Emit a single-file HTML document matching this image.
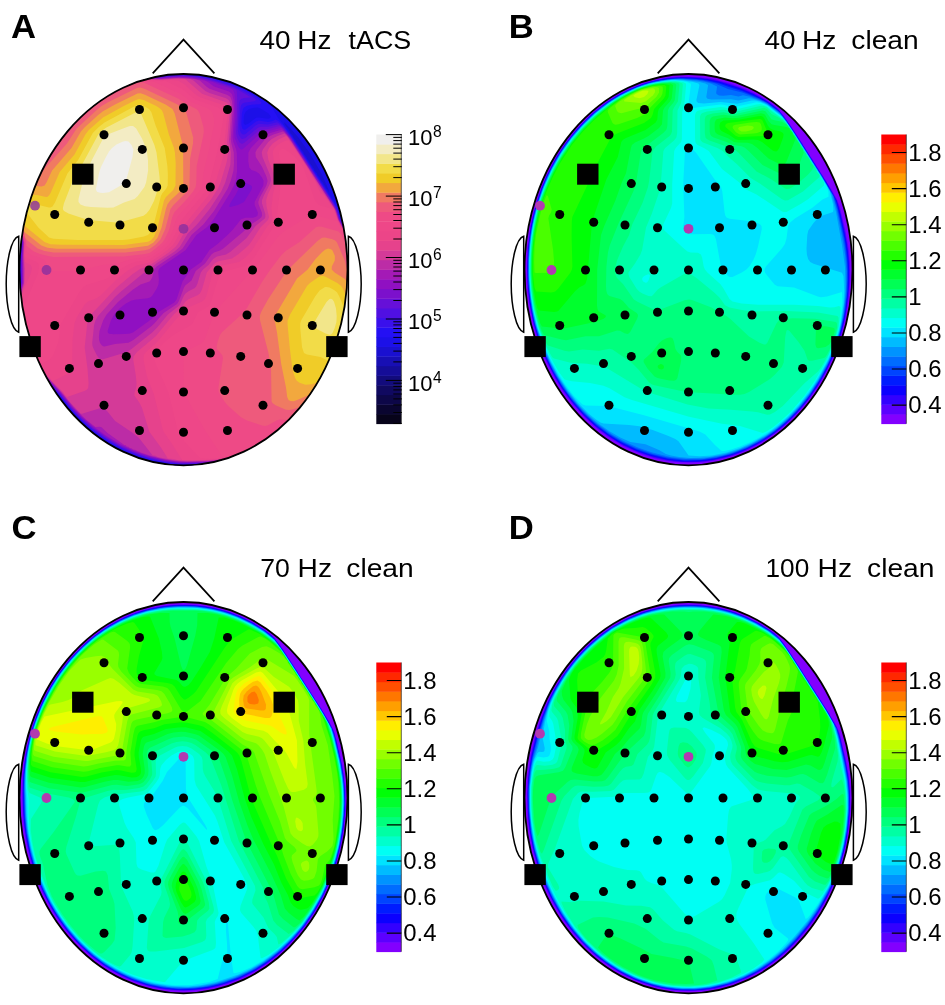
<!DOCTYPE html>
<html lang="en"><head><meta charset="utf-8"><title>Topographies</title>
<style>
html,body{margin:0;padding:0;background:#fff}
svg{display:block}
text{font-family:"Liberation Sans",sans-serif;fill:#000}
.t{font-size:26.6px}
.l{font-size:33px;font-weight:bold}
.c{font-size:23px}
</style></head><body>
<svg width="945" height="1005" viewBox="0 0 945 1005">
<defs>
<clipPath id="hc"><ellipse cx="183.5" cy="269.7" rx="164.0" ry="195.7"/></clipPath>
</defs>
<g transform="translate(0,0)">
<g clip-path="url(#hc)">
<rect x="10" y="64" width="348" height="412" fill="#1a10d0"/>
<path fill="#1c10e8" d="M11.5,64l345,0 0,411 -346.5,0 0,-411zM284.4,122.5l0,1.5 5.7,7.5 0.4,1.7 2.6,2.8 0.4,1.7 2.4,2.8 0.6,1.7 4.2,5.8 0.3,1.6 2.7,2.9 0.2,1.5 2.7,3 0.4,1.7 2.4,2.8 0.6,1.7 4.2,5.8 0.3,1.6 2.7,2.9 0.3,1.7 2.6,2.8 0.4,1.7 2.4,2.8 3.6,6.3 1.3,1.2 0.2,1.6 0.7,-0.1 -0.1,-1.5 -1.8,-4.5 -5.5,-12 -11,-19.5 -12.3,-16.9 -7.5,-8.6z"/>
<path fill="#2410f4" d="M172,73l22.5,0 1.5,1.5 10.5,0 1.5,1.5 6,0 1.5,1.5 4.5,0 1.5,1.5 3,0 1.5,1.5 3,0 1.5,1.5 3,0 1.5,1.5 1.5,0 1.5,1.5 3,0 1.5,1.5 1.5,0 3,3 1.5,0 1.5,1.5 1.5,0 1.5,1.5 1.5,0 3,3 1.5,0 3,3 1.5,0 3,3 0,1.6 1.5,-0.1 0.1,1.5 1.4,0.4 2.5,2.6 6.2,10.5 12.6,16.5 44.7,69.4 1.5,2.3 1.1,0.3 0.4,1.9 1.5,1.1 0,3.4 1.5,1.1 0,3 1.5,1.5 0,1.5 1.5,1.5 0,1.5 1.5,1.5 0,1.5 1.5,1.5 0,1.5 1.5,1.5 0,1.7 1.5,1.3 0,2 1.5,1 0,3 1.5,0 0,3.7 1.5,0.8 0,9 1.5,1.5 0,30 -1.5,1.5 0,13.5 -1.5,1.5 0,9 -1.5,1.5 0,6 -1.5,1.5 0,6 -1.5,1.5 0,3 -1.5,1.5 0,4.5 -1.5,1.5 0,3 -1.5,1.5 0,3 -1.5,1.5 0,3 -1.5,1.5 0,3 -1.5,1.5 0,1.5 -1.5,1.5 0,3 -1.5,1.5 0,1.5 -1.5,1.5 0,1.5 -1.5,1.5 0,1.5 -1.5,1.5 0,1.5 -1.5,1.5 0,1.5 -1.5,1.5 0,1.5 -1.5,1.5 0,1.5 -1.5,1.5 0,1.5 -3,3 0,1.5 -1.5,1.5 0,1.5 -3,3 0,1.5 -3,3 0,1.5 -4.5,4.5 0,1.5 -7.5,7.5 0,1.5 -18,18 -1.5,0 -7.5,7.5 -1.5,0 -3,3 -1.5,0 -3,3 -1.5,0 -1.5,1.5 -1.5,0 -1.5,1.5 -1.5,0 -1.5,1.5 -1.5,0 -1.5,1.5 -3,0 -1.5,1.5 -1.5,0 -1.5,1.5 -3,0 -1.5,1.5 -3,0 -1.5,1.5 -4.5,0 -1.5,1.5 -4.5,0 -1.5,1.5 -6,0 -1.5,1.5 -13.5,0 -1.5,1.5 -30,0 -1.5,-1.5 -10.5,0 -1.5,-1.5 -6,0 -1.5,-1.5 -4.5,0 -1.5,-1.5 -3,0 -1.5,-1.5 -4.5,0 -1.5,-1.5 -1.5,0 -1.5,-1.5 -3,0 -1.5,-1.5 -1.5,0 -1.5,-1.5 -1.5,0 -1.5,-1.5 -3,0 -3,-3 -1.5,0 -1.5,-1.5 -1.5,0 -1.5,-1.5 -1.5,0 -3,-3 -1.5,0 -1.5,-1.5 -1.5,0 -4.5,-4.5 -1.5,0 -4.5,-4.5 -1.5,0 -24,-24 0,-1.5 -6,-6 0,-1.5 -10.5,-10.5 0,-1.5 -9,-9 0,-1.5 -4.5,-4.5 0,-1.5 -4.5,-4.5 0,-1.5 -3,-3 0,-1.5 -1.5,-1.5 0,-1.5 -1.5,-1.5 0,-1.5 -1.5,-1.5 0,-3 -1.5,-1.5 0,-3 -1.5,-1.5 0,-3 -1.5,-1.5 0,-3 -1.5,-1.5 0,-4.5 -1.5,-1.5 0,-4.5 -1.5,-1.5 0,-6 -1.5,-1.5 0,-6 -1.5,-1.5 0,-3 1.5,-1.5 0,-4.5 1.5,-1.5 0,-4.5 1.5,-1.5 0,-3 1.5,-1.5 0,-37.5 1.5,-1.5 0,-6 -1.5,-1.5 0,-6 -1.5,-1.5 0,-6 -1.5,-1.5 0,-7.5 1.5,-1.5 0,-4.5 1.5,-1.5 0,-4.5 1.5,-1.5 0,-3 1.5,-1.5 0,-3 1.5,-1.5 0,-3 1.5,-1.5 0,-3 1.5,-1.5 0,-1.5 1.5,-1.5 0,-3 1.5,-1.5 0,-1.5 1.5,-1.5 0,-1.5 1.5,-1.5 0,-1.5 1.5,-1.5 0,-1.5 1.5,-1.5 0,-1.5 1.5,-1.5 0,-1.5 1.5,-1.5 0,-1.5 1.5,-1.5 0,-1.5 1.5,-1.5 0,-1.5 3,-3 0,-1.5 3,-3 0,-1.5 3,-3 0,-1.5 3,-3 0,-1.5 6,-6 0,-1.5 25.5,-25.5 1.5,0 6,-6 1.5,0 3,-3 1.5,0 3,-3 1.5,0 3,-3 1.5,0 1.5,-1.5 1.5,0 1.5,-1.5 1.5,0 1.5,-1.5 1.5,0 1.5,-1.5 1.5,0 1.5,-1.5 1.5,0 1.5,-1.5 4.5,0 1.5,-1.5 10.5,0 1.5,-1.5 28.5,0zM249,109l-3.5,2.9 -1.5,3.1 -0.4,7.5 0.4,1.4 1.5,1.1 3,-1.4 7.5,-5.8 3,-0.4 9,1.4 2.3,-0.8 0.4,-1.5 -2.1,-3 -8.1,-5.1 -3,-0.8 -3,0.1z"/>
<path fill="#3a10ec" d="M164.5,75.6l13.5,-0.9 12,0.1 9,0.8 13.5,2.6 15,4.3 9,3.4 12.7,6.6 9,6 3.4,4.5 -1.1,1.2 -7.5,0.4 -6,1.1 -3,1.7 -1,1.6 -1.1,4.5 -0.5,9 0.1,3 1,3.3 1.5,1 1.5,-0.2 10.5,-8.1 3,-0.9 9,1.3 4.8,-0.9 2.7,-1.6 3,1.7 4.5,4.2 9.1,12.2 44.2,69 1.5,3 2.2,7.9 11.1,22.1 1.6,4.5 1.6,7.5 1,18 -0.9,24 -3,21 -0.9,2.1 -2.1,11.4 -0.9,1.7 -0.7,4.3 -0.8,1.1 -2,7.9 -6.1,16.5 -7.8,16.5 -10.6,18 -13.3,18 -11.1,12 -13.6,12.7 -12,9.1 -15,7.4 -12,4.4 -18,4.6 -10.5,1.5 -25.5,1 -10.5,-0.4 -9,-0.7 -21,-4.4 -18,-6.3 -12,-5.8 -13.5,-8 -12,-8.7 -12,-10.6 -9,-9.5 -13,-16.3 -10.1,-10.5 -7.5,-9 -10.7,-15 -4.3,-9 -4.5,-13.5 -3.2,-12 -3,-15 -0.5,-4.5 0.7,-4.5 4.9,-18 -0.4,-21 1.2,-19.5 -4.5,-22.5 0.9,-1.9 0.5,-4.1 1,-2.3 2.3,-9.7 7.5,-21 7.7,-16.5 10.4,-18 11.9,-16.5 9.1,-10.5 8.1,-8.2 12,-10.6 12,-8.7 7.5,-4.7 18,-9.1 10.5,-1.6 13.5,-0.5 10.5,0.2z"/>
<path fill="#5010e2" d="M167.5,75.9l10.5,-0.7 10.5,0.1 12,1.4 10.5,2.1 22.5,7.1 15,7.9 6.5,4.7 1.1,1.5 -1.6,1.3 -10.5,1.4 -1.5,0.8 -1.5,2.1 -0.8,4.9 -0.7,15 0.4,4.5 1.1,2.9 1.5,1.4 1.5,0.2 1.5,-0.6 10.5,-8.7 3,-1.5 9,0.7 9,-2.1 3,1.5 4.5,4.3 7.5,10.1 42.8,66.8 2.9,6 2.3,7.9 5.5,10.1 5.6,12 1.7,6 1.3,7.5 0.6,15 -0.6,21 -3,22.5 -2.9,13.5 -4.7,16.5 -7.4,19.5 -9,18 -6.2,10.5 -10.5,15 -12.4,14.4 -13.5,13 -13.5,10.6 -10.5,5.8 -15,6.1 -15,4.3 -9,1.8 -12,1.4 -27,0.6 -15,-1.4 -15,-3.1 -15,-4.5 -13.5,-5.7 -13.5,-7.3 -13.5,-9.1 -12,-9.9 -12,-12 -13.7,-17 -8.8,-9 -7.7,-9 -11.9,-16.5 -3.3,-6 -6,-18 -3.1,-12 -2.9,-15 -0.4,-3 0.5,-3 5.3,-19.5 -0.3,-22.5 1.1,-18 -3.4,-15 -1.1,-7.5 4,-16.5 6.2,-18 4.5,-10.5 5.9,-12 10.6,-18 12.2,-16.5 15.3,-16.5 16.5,-14 10.5,-7.3 7.5,-4.5 12,-6.1 4.5,-1.5 12,-1.7 10.5,-0.4 10.5,0.3z"/>
<path fill="#6610d8" d="M173.5,75.9l9,-0.2 9,0.5 9,1.2 10.5,2.3 22.5,7.3 16.8,10 -0.3,0.6 -6,0.3 -3,1 -1.5,2.2 -0.5,1.9 -1.2,27 0.8,4.5 2.4,4 1.5,0.6 3,-1.1 12,-10 3,-1.3 7.5,0 10.5,-2.5 4.5,3.4 8,9.9 42.4,66 3.2,6 3.4,10.5 6.5,12 4.7,10.5 2.8,15 0.3,16.5 -0.7,16.5 -2.6,21 -4.7,21 -5.8,18 -6.2,15 -7.6,15 -10.3,16.5 -9,12 -12.4,14 -12.4,11.5 -13.8,10.5 -12,6 -14.3,5.4 -13.5,3.7 -15,2.4 -24,1.1 -12,-0.3 -13.5,-1.8 -15,-3.4 -15,-5 -13.5,-6.1 -15,-8.7 -13.5,-9.8 -10.5,-9.1 -10.5,-10.9 -11.5,-14.5 -9.5,-9.8 -7.5,-8.8 -13.5,-18.9 -4.6,-12 -4.5,-15 -2.7,-12 -2,-12 5.8,-22.5 -0.3,-24 1,-16.5 -4.3,-21 0.7,-6 6.1,-21 7.8,-19.5 9,-17.7 10.5,-16.7 13.1,-16.6 14.7,-15 6.9,-6 10.3,-7.8 16.7,-10.2 11.8,-5.6 6,-1.1 13.5,-1.3 16.5,0.2z"/>
<path fill="#7c10cc" d="M145,77.5l15,0.2 21,-1.5 13.5,1 9,1.5 9,2.4 16.5,5.1 6.8,3.3 1,1.5 0.4,6 -0.2,19.5 -0.9,16.5 0.9,4.5 2.5,4.9 1.5,1.2 1.5,0.1 1.5,-0.6 13.5,-11.3 3,-1.9 7.5,-0.9 10.5,-2.7 1.5,0 3,2.2 7.5,9 42.5,66 3.2,6 3.4,10.5 8.6,16.5 3.4,9 2,12 0.4,19.5 -1.2,18 -2.5,18 -4,18 -4.6,15 -7.7,19.3 -7.7,15.2 -10.3,16.5 -10.5,13.8 -12,13.2 -13.5,12.2 -12,8.9 -8.9,4.4 -15.1,6 -15,4.2 -16.5,2.5 -21,0.9 -13.5,-0.4 -13.5,-1.8 -16.5,-3.9 -15,-5.3 -13.5,-6.3 -13.4,-7.9 -15.1,-11.1 -13.5,-12.4 -9,-9.9 -7.8,-10.1 -13.2,-13.9 -8.1,-10.1 -10.2,-15 -5.3,-15 -4.8,-18 -2.9,-16.5 5.8,-22.5 -0.3,-24 0.9,-16.5 -4.6,-22.5 2.4,-10.5 4.6,-15 5.9,-15 6.3,-13.5 10.3,-18 12,-16.7 13.1,-14.8 13.9,-12.8 17.6,-12.7 18.4,-9.9 6,-1.9z"/>
<path fill="#9010c2" d="M167.5,77.4l16.5,-0.6 15,1.8 13.7,3.4 5.8,2.5 12,3.7 2.1,1.3 1,1.5 1,3 0.7,7.5 0.3,13.5 -1.3,16.5 0.3,6 3.4,8.6 1.5,2.2 1.5,1.1 1.5,-0.2 1.5,-1.2 13.3,-12 4.1,-3 18.6,-5 1.5,0.1 1.5,1.3 7.5,8.9 42.1,65.2 3.8,7.5 2.9,9 5.7,10.5 4.9,10.5 2.9,12 0.9,16.5 -0.8,21 -2.1,18 -3.6,18 -5.7,19.2 -5.9,15.3 -7.6,15.8 -9,15.2 -10.5,14.5 -12,13.9 -13.3,12.6 -13.5,10.5 -10.7,5.6 -13.5,5.5 -13.5,3.9 -13.5,2.6 -13.5,1.1 -24,0.2 -13.5,-1.5 -15,-3.3 -15,-4.8 -15,-6.6 -13.5,-7.7 -15,-10.6 -10.5,-8.9 -11.3,-11.5 -11.2,-13.9 -16.5,-17.9 -7.5,-9.7 -6.4,-9.5 -4.1,-9.9 -4.4,-14.1 -3.2,-13.5 -2.2,-13.5 5.8,-22.5 -0.3,-25.5 0.8,-15 -4.5,-21 0.4,-4.5 4.9,-18 7.2,-18.9 9,-18.6 10,-16.5 13.6,-18 13.9,-14.8 15,-12.7 16.5,-10.9 10.5,-5.6 7.5,-3.1 15,-1.9 18,0.1zM242.4,182.5l-1.4,1.6 -5.2,10.4 -5.3,8.3 -1.4,3.7 1.4,0.6 7.4,-2.1 6.1,-3 7.4,-12 0.8,-3 -1,-1.5 -6.2,-3z"/>
<path fill="#a41ab6" d="M173.5,77.4l15,0.3 16.2,2.8 3.2,1.5 6.1,4.5 15,5.1 3,2.4 1.5,5.5 0.7,11 -1.6,27 0.8,4.5 2.8,7.5 0.7,4.5 0.2,16.5 -1.1,9 -2.1,6 -3.8,7.5 -15.9,25.5 -4.6,6 -3.1,3.1 -10.1,7.4 -10.9,15.2 -25.9,17.8 -1.4,3 0.7,9 -0.4,4.5 -2,4.5 -4,6.3 -1.5,1.6 -3,1.4 -12,1.2 -4.5,1 -6,3.3 -6,4.8 -5.4,5.9 -3.2,6 -3.3,10.5 0.2,1.5 1.2,1.3 4.5,0.5 12,-0.4 4.5,-0.4 3,-1 18,-13.1 8.3,-7.9 15,-9 2.3,-3 5.9,-17.9 8.3,-12.1 10.6,-7.5 8.1,-12 8.1,-6 10,-9 5.8,-6 7.6,-9.7 4.5,-1.6 7.5,0.1 3,-1 1.6,-1.3 0.3,-3 -3.3,-7.5 0,-3 8.7,-16.5 0.3,-4.5 -1.6,-3.6 -3,-4 -3,-1.8 -4.5,-1.6 -2.2,-2.5 -1,-6 0.1,-9 2.5,-4.5 10.1,-10.5 4,-2.7 5.1,-1.8 11.4,-3.3 3,1.9 4.9,5.9 45.3,70.5 1.4,3 2.4,8.1 11.1,21.9 2.9,12 0.8,18 -0.7,19.5 -2.1,18 -3.3,16.5 -5.7,19.8 -6,15.7 -7.5,15.6 -9,15.3 -11.7,16.1 -12.3,13.9 -12.4,11.6 -14.6,11.2 -12,5.8 -13.5,5.1 -13.5,3.7 -13.5,2.2 -12,0.8 -22.5,0.1 -15,-1.8 -15,-3.6 -16.2,-5.5 -15.3,-7.2 -13,-7.8 -14,-10.2 -10.5,-9.1 -9,-9.2 -12,-14.8 -9,-9.1 -7.5,-8.6 -13.5,-18.6 -4.3,-10.4 -4.1,-13.5 -3.2,-13.5 -2.2,-13.5 5.8,-22.5 -0.3,-25.5 0.7,-15 -4.6,-21 0.4,-4.5 5,-18 7.4,-19.5 9.7,-19.5 10.7,-17.3 13.5,-17.3 15,-15.4 16.5,-13.3 18,-11 10.5,-5 7.5,-1.4 13.5,-1.1 15,0.3z"/>
<path fill="#bc2ca6" d="M140.5,78.9l21,0.1 18,-1.2 14.6,1.2 5.8,1.5 6.4,6 3.2,2.2 18,6.3 2.9,2 1.6,4.3 0.7,7.7 -1.9,30 0.6,4.5 2.4,9 0.2,10.5 -0.5,7.5 -2.8,10.5 -3,7.5 -13.7,22.4 -10.7,13.6 -11.8,10.4 -8.9,13.6 -5.6,4.5 -20.4,13.5 -2.5,3 -1.7,7.5 -1.4,2.8 -1.5,1.6 -9,3.2 -7.5,5 -15,12.4 -11.4,12.5 -3.5,6 -3.6,10.5 -0.6,6 0.2,3 0.9,2.9 1.5,2.2 1.5,1.1 1.5,0.3 10.5,-2.4 13.5,-1.4 4.5,-2.4 18,-13.8 3.3,-3 9.3,-10.5 13.5,-9 1.8,-3 5.1,-13.6 1.5,-2.1 6,-4.7 4.2,-9.6 9.3,-7.5 6.4,-9 2.6,-2 6,-2.1 3.3,-1.9 19.7,-16.5 7.6,-7.5 8.4,-5.2 2.5,-2.3 0.6,-1.5 -0.3,-3 -3,-7.5 -0.6,-3 1.6,-4.5 6.6,-12 1.2,-4.5 -1.1,-4.3 -4.5,-9.9 -6.2,-9.8 -0.4,-4.5 1.4,-3 8.5,-10.5 2.7,-2 5.4,-2.5 9.6,-3 3,2.5 3.9,5 44.1,68.4 1.8,3.6 2.7,8.8 9.4,18.2 2,4.5 1.1,4.5 1.6,12 0.2,21 -1.2,18 -2.7,18 -3.9,16.5 -5.3,16.5 -6.7,16.5 -7.8,15 -9.2,14.7 -10.5,13.9 -12,13.3 -13.5,12.3 -12,9 -6,3.1 -15,6.4 -15,4.5 -12,2.3 -12,1.2 -21,0.5 -12,-0.8 -12,-2 -13.4,-3.4 -8.9,-3 -1.7,-1.1 -2.1,-0.4 -0.9,-0.9 -3,-0.6 -1.5,-1.3 -1.7,-0.2 -1.3,-1.3 -1.6,-0.2 -1.4,-1.4 -1.2,-0.1 -16.8,-12 -6,-5.7 -1.5,-0.5 -4.5,0.2 -9,-7 -12,-11.7 -13,-15.8 -14,-14.7 -9,-11.3 -7.9,-11.5 -4.9,-13.5 -4.2,-15 -3.9,-21 6,-22.5 -0.5,-27 0.6,-13.5 -4.8,-22.5 2.4,-10.5 3.7,-12.1 4.5,-12 5.3,-11.9 10.4,-19.5 11,-16.5 12.4,-15 13.4,-13.3 16.5,-13 18,-10.8 9,-4.3z"/>
<path fill="#d43a98" d="M149.5,79l12,0.4 16.5,-1.1 12.1,0.7 3.4,1.5 11.8,10.5 4.2,1.9 16.5,5.4 3,1.9 1.5,3.3 0.8,7 -2.3,30 1.9,12 -0.5,12 -5.1,18 -4.1,9 -11.7,17.8 -12.5,15.2 -9.2,9 -8.1,13.5 -5.1,4.5 -17.6,11.6 -7.5,6.1 -7.1,4.8 -21.4,17.4 -6,5.6 -17,19 -2.6,4.5 -1.3,4.5 -1.9,18 0.3,3 1.2,3 3.3,6.6 1.8,2.4 1.2,0.9 3,0.3 24,-7.3 4.5,-2.9 21,-16.7 4.5,-4.6 10.9,-13.2 11.5,-9 4.6,-10 1.5,-2.1 3,-2.2 6,-3 1.5,-1.5 1.5,-3.2 3.3,-11 2.3,-3 5.4,-4.5 4.6,-6 3.9,-2.4 9,-2.2 4.5,-2.7 16.1,-13.7 8.9,-12 9.3,-7.5 0.6,-1.5 -0.1,-3 -3.3,-10.5 -0.1,-3 1.7,-4.5 6.2,-12 1.3,-4.5 -1.1,-4.5 -7.5,-18 -0.8,-4.5 1.1,-3 5.5,-7.5 3.5,-3 5.6,-3 7.1,-2.6 3,3.1 3.9,5.5 42.6,66 1.5,3.1 2.7,8.9 5.9,10.5 5.6,12 1.4,6 1.3,15 0,19.5 -1.5,18 -2.9,18 -4.2,16.5 -5.5,16.5 -7.1,16.5 -8.1,15 -10.1,15.4 -10.5,13.2 -13.5,14.1 -13.5,11.6 -9,6.3 -12,5.7 -15,5.4 -13.5,3.4 -16.5,2.1 -22.5,0.5 -14.7,-1.2 -14.8,-3 -2,-1.2 -2.8,-0.3 -13.7,-17.5 -6.1,-5 -17.8,-12 -7.6,-9.4 -3,-2.9 -1.5,-0.6 -3,0.2 -18,5.5 -1.5,-0.3 -12,-13 -6.3,-8 -15.6,-16.5 -8.1,-10.2 -7.4,-10.8 -5.9,-16.5 -4.9,-19.5 -2.2,-13.5 6,-22.5 0.1,-15 -0.6,-12 0.5,-13.5 -4.9,-22.5 3.3,-13.5 5,-15 5.6,-13.5 7.4,-15 10.9,-18 12.5,-16.5 13.6,-14.6 15,-12.9 15,-10.2 18,-9.2 12,-2.1z"/>
<path fill="#e6428c" d="M172,78.9l13.1,0.1 16.9,14.8 24,8.5 1.5,1 1.5,2.7 0.6,7.5 -2.6,28.5 0.9,10.5 -0.3,4.5 -1.2,6 -5.9,19.5 -2.5,6 -7,11.1 -25.5,30.7 -7.7,13.7 -2.4,3 -7.3,6 -17.1,11.6 -3,1.5 -7.5,2.6 -7.8,5.3 -16.2,13.5 -26.8,28.5 -1.6,3 -0.7,3 -2.7,25.5 2.8,21 1.1,15 -0.5,4.5 -1,1.5 -2.1,1.3 -18,6.2 -3,-3.2 -0.5,-1.3 -11.5,-11.2 -6,-6.7 -7.5,-9.6 -6.9,-10 -5.1,-13.7 -5.2,-19.3 -2.7,-16.5 5.9,-21 0.5,-15 -1,-15 0.5,-12 -5,-22.5 5.1,-19.5 5,-13.5 6.7,-15 6.7,-12.7 7.9,-12.8 8.6,-12 8.8,-10.5 9.2,-9.5 10.5,-9.4 9,-6.9 9,-6 9,-5.1 10.5,-5.1 15,-2.4 21,0.3zM286,135.9l1.5,1.3 3.3,4.8 16.6,25.5 13.8,22.5 12.8,18.6 3.9,11.4 7.4,13.5 4.5,10.5 1.6,9 0.7,13.5 -0.1,16.5 -1.1,15 -1.8,13.5 -2.4,12 -3.1,12 -4.5,13.5 -5.4,13.5 -6.7,13.5 -8,13.5 -8.4,12 -9.6,11.7 -10.5,11 -10.5,9.5 -12,9 -10.5,5.3 -12,4.8 -12,3.7 -12,2.5 -12,1.3 -19.5,0.4 -12,-0.5 -4.5,-1.1 -5.7,-0.6 -6.5,-10.5 -12.1,-16.5 -7.2,-23.7 -2.4,-4.8 -5.2,-7.5 0.1,-3 1.6,-4.5 0.5,-4.5 -0.7,-7.5 -2.7,-16.5 0.3,-3 3.5,-4.5 18.5,-15.4 18.2,-22.1 7.3,-6.4 4.5,-6.7 3,-2.1 9,-4 2.4,-1.8 2.1,-3.9 4.8,-17.1 7.2,-8.4 1.5,-1.4 3,-1.4 13.5,-2.9 6,-3.8 10.5,-9.2 3,-3.9 8.9,-14 7.6,-7.5 1,-3 -2.5,-10.7 -0.4,-5.8 1.7,-6 5.6,-12 1.2,-4.5 -0.4,-3 -5.8,-15 -1.2,-7.5 1.8,-4.5 3.7,-4.5 6.6,-4.5z"/>
<path fill="#ec4588" d="M136,80.5l12,-0.7 12,0.5 12,-0.3 5.8,0.5 6.2,3.5 11.1,10 3.9,2.8 24,8.2 3,1.7 1.3,2.3 0.3,4.5 -2.9,27 -0.5,10.5 -1.2,6.4 -7.5,25.1 -2.4,6 -5.1,7.4 -24,29.3 -9,16.8 -2.5,3.5 -8.8,7.5 -12.7,8.6 -3,1.4 -12,2.8 -8.9,5.2 -10.6,8.5 -16.5,16.4 -4.5,2.8 -7.5,2.8 -3,2.5 -8.3,13.5 -2.3,6 -1.9,16.5 -0.3,27 -0.7,3.7 -3,2.8 -15,7.3 -1.5,-0.3 -9.1,-10.5 -10.7,-15 -6.1,-16.5 -3.3,-12 -2.5,-12 -0.9,-9 0.6,-1.5 0.5,-4.3 1.2,-1.7 0.3,-3.2 0.9,-1.3 0.6,-2.8 7.6,-18.2 0.8,-4.5 -1.2,-3 -5.7,-3 -0.6,-7.5 0.4,-12 -5,-22.5 3.3,-13.5 8.1,-22.5 11,-22.5 12.2,-19.5 14.1,-17.6 7.5,-7.9 9,-8.3 9,-7.3 9,-6.3 12,-7.1 10.5,-5.1zM286,140.4l3,0.1 0.5,1.5 5.5,7.2 0.7,1.8 2.3,2.7 0.6,1.8 2.4,2.8 0.6,1.7 2.4,2.9 7.6,12.1 0.3,1.5 4.1,6 0.2,1.5 4.3,9 4.5,3 0.2,1.5 2.8,2.9 0.6,1.6 5.4,7.2 3.6,10.8 6,10.5 5.6,12 1.4,6 1,13.5 0.3,15 -0.7,15 -1.5,13.5 -2.3,13.5 -6,22.5 -4.9,13.5 -6.7,15 -7.4,13.5 -7.9,12.1 -9,11.8 -10.5,11.8 -11.3,10.8 -11.2,9 -6,4.2 -13.4,6.3 -10.6,3.9 -12.9,3.6 -12.6,2.2 -11.3,0.8 -23.5,0 -11.4,-18 -6.4,-9 -1.5,-3 -9.1,-36 -5.8,-14.5 -1.5,-5 -3,-15 0.3,-4.5 2.2,-3 11,-9.8 21,-25.3 7.5,-7.5 3.8,-2.4 12.7,-5.6 2.5,-1.9 2.2,-4.5 5.5,-21 1.5,-3 1.8,-2.3 1.5,-1.4 3,-1.4 18.9,-3.9 6.6,-4.5 6,-6.2 15,-23.8 5,-6 1,-3 -1.1,-10.5 1.5,-13.5 1.4,-6 3.4,-9 0.6,-3 -0.5,-3 -3.8,-12 -1.2,-7.5 0.2,-3 1.5,-3 2.5,-2.6 4.5,-2.9z"/>
<path fill="#ee4788" d="M140.5,80.4l13.5,-0.1 7.5,0.9 3.3,-0.7 17.7,8.4 10.5,8.9 3,1.9 22,7.8 5,3 0.9,3 -0.2,3 -3.7,21.5 -2.6,13 -8.6,34.5 -3.4,6 -24.9,30 -4.2,10.5 -5.6,10.5 -2.5,3 -7,6 -11.7,7.9 -3,0.9 -11.3,1.7 -4.6,1.5 -11,6 -12.1,8.7 -4.5,1.8 -16.5,5 -3.6,2.5 -3.9,5.5 -17.8,30.5 -1.2,4.5 -0.8,9 -1.1,6 -5.5,13.5 -2.8,3 -9.8,5.1 -6,-7.7 -3,-5.5 -4.5,-13 -0.9,-4.4 -0.8,-1.5 -0.3,-3 -1.2,-3 -0.5,-4.5 -0.9,-1.5 -0.6,-7.5 0.5,-1.5 15.9,-37.5 1.4,-6 -0.6,-3.9 -1.7,-2.1 -8.8,-3.4 -3,-1.9 0.3,-14.2 -3.1,-12 -2.1,-10.5 2.9,-12 3.3,-10.5 7.7,-19.1 11.2,-21.4 11.3,-17.2 15,-18.1 15,-14.3 11.4,-8.9 9.6,-6.3 18,-9.3 6,-1.4zM281.5,148.9l3,0 6,4.1 6,5.4 5,6.1 2.6,4.5 9.8,28.5 2.1,4.8 3,2.7 13.5,4 1.5,1.7 0.3,1.8 1.2,1.2 0.3,3.3 1.2,1.7 0.8,2.8 5.5,9 5.7,12.3 1.5,8.4 0.7,9.3 0,25.5 -2.2,22.5 -4.4,21 -4.5,15 -5.1,13.5 -6.3,13.5 -6.7,12.1 -7.8,11.9 -8.7,11.3 -10.5,11.8 -10.5,10.2 -9,7.5 -9,6.4 -10.9,5.3 -8.6,3.4 -13.5,4.2 -14.6,2.9 -9.4,0.4 -9,-0.4 -15,-15.7 -4.5,-6.1 -3.1,-5.2 -9.5,-39 -12.9,-29.2 -1.7,-5.3 -0.1,-3 0.5,-1.5 2.4,-3 7.9,-8.3 6,-5.3 6,-3.9 14.7,-8 1.8,-2.4 4.5,-9.6 1.7,-1.5 7.3,-4 2.7,-2 1.8,-3.6 6,-20.2 2.9,-6.2 1.6,-2 4.3,-2.5 19.7,-5.2 5.1,-3.8 3.9,-5.2 21.3,-33.8 1.1,-3 0.3,-7.5 3.2,-25.5 2.2,-10.5 0,-3 -3.7,-19.5 0.4,-3z"/>
<path fill="#ee4a86" d="M131.5,81.9l15,-1.1 8.5,1.2 26,12.1 10.5,7.8 14.4,5.6 2.9,1.5 3.3,3 1.9,6 0.1,6 -4.7,24 -5.9,24.7 -1.5,14.3 -2.8,4.5 -10.7,13.2 -11.1,12.3 -1.5,3 -3.6,12 -5.7,10.5 -8.1,7.5 -7.5,5.5 -4.5,1.6 -16.5,2.4 -12,4 -15,1.5 -27,6.3 -25.5,0 -1.5,-0.8 -1.5,-2.7 -1.7,-5.8 -1.1,-1.5 -3.2,-1.9 -10.5,-3.5 -4.6,-3.6 -0.6,-9 -3.3,-12 -2,-10.5 4.1,-16.5 7.3,-19.5 9.5,-19.5 8.9,-15 12,-16.5 9.2,-10.7 10.5,-10.4 10.6,-8.9 10.4,-7.5 1.5,-0.5 6,-4.1 1.5,-0.3 1.2,-1.1 7.8,-3.5 1.1,-1 1.9,-0.4 1.1,-1.1zM310,215.2l3,-0.3 3,0.5 21,5.5 1.5,2 0.4,1.6 4.1,6 0.3,1.5 1.3,1.5 0.2,1.5 1.2,1.5 2,6 1.1,1.5 1.4,11.7 0.6,13.8 -0.1,13.5 -1,15 -3.8,24 -3.5,13.5 -4.2,12.7 -9.3,21.8 -11.7,20.1 -13.5,18 -16.5,17.4 -16.5,13.7 -4.5,3.1 -4.5,1.8 -1.5,1.2 -1.5,0.2 -1,1 -6.5,2.2 -0.8,0.8 -2.2,0.4 -1.5,1.1 -3,0.4 -1.5,1.2 -3,0.2 -1.8,1.2 -4.2,0.4 -1.5,1.2 -4.5,0.1 -2.7,1.3 -2.3,0 -17.7,-27 -16.3,-29.1 -3,-6.2 -1.4,-5.2 -0.5,-6 -0.1,-25.5 0.7,-4.5 2.8,-3 13.5,-6.7 2.8,-2.3 2.2,-4.5 7,-19.5 2.5,-4.5 6.5,-8.4 26.1,-29.1 6.9,-7 24,-32.5 4.5,-4z"/>
<path fill="#ee5a7c" d="M139,82l4.5,0.6 34.5,16 10.5,6.4 7.8,4 1.7,1.5 1.6,3 3.9,13.5 0.3,4.5 -0.6,4.5 -6.5,30 -0.5,18 -0.5,3 -2.6,4.5 -6.1,7.5 -12.8,13.5 -1.9,4.5 -3.4,13.5 -4.4,9 -2.1,3 -3.2,3 -6.7,5.6 -3,1.8 -4.5,1.1 -21,2.6 -70.5,0.3 -4.5,-0.6 -9,-2.4 -6.2,-2.4 -7.3,-5.7 -0.5,-4.8 -2.5,-7.8 -2.7,-13.2 3.6,-15 5.1,-14.4 6,-13.6 7.5,-14.3 1.2,-1.2 0.3,-1.7 4.4,-5.8 0.1,-0.9 15,-16.1 7.3,-10 27.2,-24.9 4.5,-3 7.5,-3.9 24,-11.9zM316,227.2l3,-0.8 3,0.4 16.5,4.6 3,3.3 7.5,16.5 1.6,12.3 -0.1,23.7 -2.6,24.3 -4.3,19.5 -6.8,21 -9.5,21 -11.3,18.7 -13.5,17.6 -10.5,10.2 -1.5,0.7 -10.8,-0.7 -2.7,0.8 -9,5 -3,0.7 -3,-0.5 -15,-5 -6,-3.3 -13.5,-12 -3,-3.7 -4.7,-7.5 -1.2,-3 -0.2,-3 4.6,-30 -0.8,-3 -5.3,-6 -0.2,-3 1,-4.5 2.1,-6 1.9,-3 19.8,-18 5.5,-6.6 15.3,-26.4 8.1,-12 11.1,-14.6 4.5,-4.1 13.5,-8.8z"/>
<path fill="#f07a62" d="M137.5,87.8l3,-0.3 4.5,1.5 31.5,14.9 6,3.6 2.7,3 1.3,3 6.7,24 -0.2,6 -2.9,15 -0.7,28.5 -1.4,3 -2.5,3.3 -12,11.7 -3,4 -5.2,20 -4.8,10.5 -5,5.3 -6,4.2 -4.5,1.2 -19.5,2.4 -72,-0.1 -9,-1.5 -6.9,-2.5 -11.1,-8.8 -1.5,-2.5 -3.9,-17.2 2,-9 3.1,-10.5 4.8,-12.7 3,-6.9 1.3,-1.4 0.2,-1.7 1.5,-1.4 1.5,-0.2 2.1,-1.2 5,-7.5 21.4,-24 9.7,-15 20.3,-18.8 4.5,-3.6 7.5,-4.3zM322,237.7l3,-0.3 7.5,1.8 3,1.6 1.5,1.7 7.7,18 2.1,9 3.2,4.5 0.3,3 -0.8,19.5 -3.3,22.5 -5.5,21 -6.7,18 -8.7,18 -9.2,15 -10.6,13.5 -6.9,3 -6.6,2.1 -3,0.5 -3,-0.4 -10.5,-4.4 -3,-2.2 -0.9,-1.6 -0.6,-33.3 -2.4,-14.7 -8.5,-33 -0.4,-4.5 1.7,-4.5 6.6,-12.1 18.7,-28.4 30.8,-30.1z"/>
<path fill="#f2a83e" d="M137.5,93.6l3,-0.3 4.5,1.5 20.5,9.7 7,4.5 2.2,4.5 8.4,33 0.2,36 -0.5,4.5 -2.9,4.5 -9.6,9 -2.8,3.7 -1.5,4.4 -4.4,18.9 -4.2,10.5 -3.9,4.5 -5.5,3.2 -22.5,3.1 -69,-0.1 -9,-1 -6.1,-2.2 -16.4,-13.1 -1.5,-1.9 -0.5,-4.5 -1.4,-4.5 0.4,-4.5 3,-11.9 4.2,-12.1 1.2,-1.5 0.6,-2.7 1.4,-1.8 0.1,-1.3 9,0.8 3.1,-1 1.9,-3 5.6,-12 19.4,-22.4 9.4,-16.6 4.1,-4.5 13.5,-12.3 4.5,-3.4 12,-6.7zM328,248.5l3,0.7 1.5,1.4 2.4,5.4 -0.1,4.5 -3,6 -0.1,3 2.9,3 9.9,6.2 2.3,2.8 2.2,4.2 0,12.6 -1.5,11.8 -2.9,14.9 -5.7,19.5 -6.4,16.3 -7.5,15.1 -4.5,7.7 -2.4,2.9 -0.6,1.8 -2.7,2.7 -0.3,1.5 -18,7.7 -3,1 -3,-0.1 -2,-1.1 -1.3,-3 -1.2,-9.6 -4.8,-23.4 -4.2,-31.4 -2.3,-12.1 0.2,-4.5 22.1,-37.5 10.7,-9 7.8,-10.5 6.5,-6.7 3,-2.6z"/>
<path fill="#f0cc28" d="M136,99.9l3,-0.9 4.5,0.9 12.8,6.1 3.7,2.4 2,2.1 1.3,3 5.6,21 5.1,13.5 0.9,4.5 0.8,10.5 -0.2,22.5 -2.3,4.5 -7.2,7.1 -2,3.4 -6.5,27 -3.5,9.2 -3,3.5 -3,1.5 -24,3.3 -63,-0.2 -10.5,-0.6 -6,-2.2 -21,-17 -0.6,-2 -0.9,-0.9 0,-3.6 0.8,-1.5 0.5,-4.5 3.2,-11.1 0.9,-0.9 0.6,-3.2 1.4,-1.3 0.1,-1.1 1.5,-0.1 6,0.1 9,2.1 1.5,-0.3 1.5,-1.1 1.6,-2.6 9.1,-21 14.8,-17.5 10.9,-20 3.4,-4.5 14.2,-12.6 20.7,-11.4zM319,276.7l3,-0.9 3,0.6 12.3,6.6 3.9,3 1.8,2.8 4.5,10.3 0.2,7.9 -1,3 -0.5,6 -1.5,7.5 -4.7,16.7 -6,16.3 -7.5,15.8 -2.6,3.7 -0.4,1.7 -1.3,1.3 -0.2,1.5 -1.5,0.9 -9,2.9 -6,0.4 -6,-1.9 -3,-2.2 -1.5,-2.8 -1.5,-4.8 -1.5,-7.5 -2.1,-16.5 -2.3,-24 0,-4.5 2.5,-6 16.9,-28.5 3,-3.1z"/>
<path fill="#f2dc48" d="M136,105.6l3,-0.8 4.5,0.9 5.5,3.3 2.3,3 4.3,13.5 9.1,22.5 2.7,18 0.5,9 -0.2,10.5 -1.4,3 -3.8,4.5 -1.6,3 -6.9,27.5 -1.5,4.4 -3,5.5 -1.6,1.6 -4.1,1.5 -15.5,3 -5.8,0.6 -45,-0.1 -24,-1.2 -4.5,-1.3 -10.7,-10 -10.3,-13.2 -3,-2.4 0,-4 1.4,-1.4 0.1,-1.3 9,-0.9 13.5,3.2 1.5,0 2,-1 2.5,-3.9 12.4,-29.1 10.7,-13.5 14.7,-27 6,-6 5.7,-4.4zM325,287.1l1.5,-0.2 3,0.7 4.5,2.3 3,2.4 2.3,4.2 6.7,16 0,2.5 -1.1,2.5 -0.4,5.3 -1.1,2.2 -0.2,3 -1.4,3 -0.3,3.4 -1,1.1 -0.5,3.6 -0.9,0.9 -2.1,7.9 -1.1,1.1 -0.4,3 -1.3,1.5 -0.2,1.7 -1.3,1.3 -0.2,1.9 -1.3,1.1 -0.2,2.5 -10.5,-4.9 -13.5,-2.5 -3,-1.7 -1.9,-5.4 -1.9,-19.5 0,-4.5 0.9,-3 14,-24 4.5,-6z"/>
<path fill="#f2e68a" d="M134.5,112.9l3,-0.9 1.5,0.2 1.5,1.1 1.1,1.7 12.8,30 2.1,7.5 3,24 0.5,7.5 -0.7,3 -2.7,6 -2.6,7.9 -4.5,8.8 -3,3.8 -3,2.2 -22.5,6.3 -4.5,0.6 -28.5,-2.5 -19.5,-6.6 -4.5,-2.4 -1,-1.6 -0.1,-1.5 1,-4.5 10.5,-27 7.6,-11.7 16.3,-30.3 3.2,-3.5 4.5,-3.2zM329.5,298.9l1.5,-0.1 1.5,0.7 1.5,2.3 2,6.7 0.7,7.5 -0.3,6 -1.7,6 -2.2,4.9 -1.5,1.5 -1.5,0.4 -4.5,-1.5 -7.5,-4.1 -3,-2.5 -0.6,-1.7 0.7,-3 2.5,-4.5 9.4,-15.5z"/>
<path fill="#f3ecc4" d="M127,127l3,-0.9 3,-0.1 3,2.2 6,10.2 4.6,11.1 1.4,10.7 0.1,10.3 -2,12 -1.7,4.5 -6.6,9 -3.3,3 -10.5,3.4 -10.5,5 -6,0.4 -16.5,-0.7 -6,-0.9 -4.5,-1.8 -2,-2.4 0,-3 5.5,-22.5 4,-8.9 15,-28.8 2.3,-2.8 2.2,-1.6z"/>
<path fill="#f0efed" d="M122.5,141.7l3,-0.7 3,0.6 3,3.4 1.9,4.5 -0.9,7.5 -6.6,24 -3.4,3.6 -13.5,7.7 -6,0.7 -3,-0.2 -3,-1.1 -0.9,-1.7 -0.1,-1.5 3.3,-16.5 1.5,-4.5 4.4,-9 3.8,-7 3,-3.5 4.5,-3.5z"/>
</g>
<ellipse cx="183.5" cy="269.7" rx="164.0" ry="195.7" fill="none" stroke="#000" stroke-width="1.8"/>
<polyline points="152.7,73.4 183.5,39.6 214.4,73.4" fill="none" stroke="#000" stroke-width="1.7"/>
<path d="M18.7,236.2 C11,238 6.2,262 6.2,284 C6.2,306 11,330 18.7,332.2 Z" fill="#fff" stroke="#000" stroke-width="1.5"/>
<path d="M348.4,236.2 C356,238 361.2,262 361.2,284 C361.2,306 356,330 348.4,332.2 Z" fill="#fff" stroke="#000" stroke-width="1.5"/>
<rect x="72.1" y="163.7" width="21.4" height="21" fill="#000"/><rect x="273.5" y="163.7" width="21.4" height="21" fill="#000"/><rect x="19.4" y="336.1" width="21.4" height="21" fill="#000"/><rect x="326.2" y="336.1" width="21.4" height="21" fill="#000"/>
<circle cx="139.5" cy="109.5" r="4.5"/><circle cx="183.5" cy="107.7" r="4.5"/><circle cx="227.5" cy="109.5" r="4.5"/><circle cx="104.0" cy="134.8" r="4.5"/><circle cx="142.3" cy="149.4" r="4.5"/><circle cx="183.5" cy="148.0" r="4.5"/><circle cx="224.7" cy="149.4" r="4.5"/><circle cx="263.0" cy="134.8" r="4.5"/><circle cx="126.3" cy="183.6" r="4.5"/><circle cx="156.7" cy="187.0" r="4.5"/><circle cx="183.5" cy="188.4" r="4.5"/><circle cx="210.3" cy="187.0" r="4.5"/><circle cx="240.7" cy="183.6" r="4.5"/><circle cx="54.7" cy="214.5" r="4.5"/><circle cx="88.7" cy="222.3" r="4.5"/><circle cx="120.0" cy="225.0" r="4.5"/><circle cx="152.5" cy="227.8" r="4.5"/><circle cx="214.5" cy="227.8" r="4.5"/><circle cx="247.0" cy="225.0" r="4.5"/><circle cx="278.3" cy="222.3" r="4.5"/><circle cx="312.3" cy="214.5" r="4.5"/><circle cx="80.5" cy="270.0" r="4.5"/><circle cx="114.5" cy="270.0" r="4.5"/><circle cx="149.0" cy="270.0" r="4.5"/><circle cx="183.5" cy="270.0" r="4.5"/><circle cx="218.0" cy="270.0" r="4.5"/><circle cx="252.5" cy="270.0" r="4.5"/><circle cx="286.5" cy="270.0" r="4.5"/><circle cx="320.4" cy="270.0" r="4.5"/><circle cx="54.7" cy="325.5" r="4.5"/><circle cx="88.7" cy="317.7" r="4.5"/><circle cx="120.0" cy="315.0" r="4.5"/><circle cx="152.5" cy="312.2" r="4.5"/><circle cx="183.5" cy="311.0" r="4.5"/><circle cx="214.5" cy="312.2" r="4.5"/><circle cx="247.0" cy="315.0" r="4.5"/><circle cx="278.3" cy="317.7" r="4.5"/><circle cx="312.3" cy="325.5" r="4.5"/><circle cx="69.4" cy="368.4" r="4.5"/><circle cx="98.5" cy="363.6" r="4.5"/><circle cx="126.3" cy="356.4" r="4.5"/><circle cx="156.7" cy="353.0" r="4.5"/><circle cx="183.5" cy="351.6" r="4.5"/><circle cx="210.3" cy="353.0" r="4.5"/><circle cx="240.7" cy="356.4" r="4.5"/><circle cx="268.5" cy="363.6" r="4.5"/><circle cx="297.6" cy="368.4" r="4.5"/><circle cx="104.0" cy="405.2" r="4.5"/><circle cx="142.3" cy="390.6" r="4.5"/><circle cx="183.5" cy="392.0" r="4.5"/><circle cx="224.7" cy="390.6" r="4.5"/><circle cx="263.0" cy="405.2" r="4.5"/><circle cx="139.5" cy="430.5" r="4.5"/><circle cx="183.5" cy="432.3" r="4.5"/><circle cx="227.5" cy="430.5" r="4.5"/>
<circle cx="35.0" cy="205.7" r="4.9" fill="#8a2ea0" fill-opacity="0.8"/><circle cx="46.5" cy="270.0" r="4.9" fill="#8a2ea0" fill-opacity="0.8"/><circle cx="183.5" cy="228.8" r="4.9" fill="#8a2ea0" fill-opacity="0.8"/>
<rect x="376.3" y="414.06" width="25.0" height="10.04" fill="#07031a"/><rect x="376.3" y="404.42" width="25.0" height="10.04" fill="#0a0530"/><rect x="376.3" y="394.78" width="25.0" height="10.04" fill="#0d0748"/><rect x="376.3" y="385.14" width="25.0" height="10.04" fill="#100960"/><rect x="376.3" y="375.50" width="25.0" height="10.04" fill="#120b7c"/><rect x="376.3" y="365.86" width="25.0" height="10.04" fill="#150d98"/><rect x="376.3" y="356.22" width="25.0" height="10.04" fill="#180fb4"/><rect x="376.3" y="346.58" width="25.0" height="10.04" fill="#1a10d0"/><rect x="376.3" y="336.94" width="25.0" height="10.04" fill="#1c10e8"/><rect x="376.3" y="327.30" width="25.0" height="10.04" fill="#2410f4"/><rect x="376.3" y="317.66" width="25.0" height="10.04" fill="#3a10ec"/><rect x="376.3" y="308.02" width="25.0" height="10.04" fill="#5010e2"/><rect x="376.3" y="298.38" width="25.0" height="10.04" fill="#6610d8"/><rect x="376.3" y="288.74" width="25.0" height="10.04" fill="#7c10cc"/><rect x="376.3" y="279.10" width="25.0" height="10.04" fill="#9010c2"/><rect x="376.3" y="269.46" width="25.0" height="10.04" fill="#a41ab6"/><rect x="376.3" y="259.82" width="25.0" height="10.04" fill="#bc2ca6"/><rect x="376.3" y="250.18" width="25.0" height="10.04" fill="#d43a98"/><rect x="376.3" y="240.54" width="25.0" height="10.04" fill="#e6428c"/><rect x="376.3" y="230.90" width="25.0" height="10.04" fill="#ec4588"/><rect x="376.3" y="221.26" width="25.0" height="10.04" fill="#ee4788"/><rect x="376.3" y="211.62" width="25.0" height="10.04" fill="#ee4a86"/><rect x="376.3" y="201.98" width="25.0" height="10.04" fill="#ee5a7c"/><rect x="376.3" y="192.34" width="25.0" height="10.04" fill="#f07a62"/><rect x="376.3" y="182.70" width="25.0" height="10.04" fill="#f2a83e"/><rect x="376.3" y="173.06" width="25.0" height="10.04" fill="#f0cc28"/><rect x="376.3" y="163.42" width="25.0" height="10.04" fill="#f2dc48"/><rect x="376.3" y="153.78" width="25.0" height="10.04" fill="#f2e68a"/><rect x="376.3" y="144.14" width="25.0" height="10.04" fill="#f3ecc4"/><rect x="376.3" y="134.50" width="25.0" height="10.04" fill="#f0efed"/>
<path d="M401.3,134.5V423.7" stroke="#222" stroke-opacity="0.7" stroke-width="1" fill="none"/>
<path d="M385.8,134.6H401.8M393.3,177.6H401.8M393.3,166.7H401.8M393.3,159.1H401.8M393.3,153.1H401.8M393.3,148.2H401.8M393.3,144.1H401.8M393.3,140.6H401.8M393.3,137.4H401.8M385.8,196.1H401.8M393.3,239.0H401.8M393.3,228.2H401.8M393.3,220.5H401.8M393.3,214.5H401.8M393.3,209.7H401.8M393.3,205.6H401.8M393.3,202.0H401.8M393.3,198.9H401.8M385.8,257.5H401.8M393.3,300.5H401.8M393.3,289.6H401.8M393.3,282.0H401.8M393.3,276.0H401.8M393.3,271.1H401.8M393.3,267.0H401.8M393.3,263.5H401.8M393.3,260.3H401.8M385.8,319.0H401.8M393.3,361.9H401.8M393.3,351.1H401.8M393.3,343.4H401.8M393.3,337.4H401.8M393.3,332.6H401.8M393.3,328.5H401.8M393.3,324.9H401.8M393.3,321.8H401.8M385.8,380.4H401.8M393.3,423.4H401.8M393.3,412.5H401.8M393.3,404.9H401.8M393.3,398.9H401.8M393.3,394.0H401.8M393.3,389.9H401.8M393.3,386.4H401.8M393.3,383.2H401.8" stroke="#000" stroke-width="1" fill="none"/>
<text x="408.1" y="144.8" style="font-size:22px">10<tspan dx="0.3" dy="-8" style="font-size:15.6px">8</tspan></text>
<text x="408.1" y="206.2" style="font-size:22px">10<tspan dx="0.3" dy="-8" style="font-size:15.6px">7</tspan></text>
<text x="408.1" y="267.7" style="font-size:22px">10<tspan dx="0.3" dy="-8" style="font-size:15.6px">6</tspan></text>
<text x="408.1" y="329.2" style="font-size:22px">10<tspan dx="0.3" dy="-8" style="font-size:15.6px">5</tspan></text>
<text x="408.1" y="390.6" style="font-size:22px">10<tspan dx="0.3" dy="-8" style="font-size:15.6px">4</tspan></text>
<text class="l" transform="translate(11.0,37.8) scale(1.05,1)">A</text>
<text class="t" transform="translate(259.5,49.3) scale(1.05,1)">40</text><text class="t" transform="translate(297.3,49.3) scale(1.05,1)">Hz</text><text class="t" transform="translate(348.6,49.3) scale(1.01,1)">tACS</text>
</g>
<g transform="translate(505,0)">
<g clip-path="url(#hc)">
<rect x="10" y="64" width="348" height="412" fill="#8200ff"/>
<path fill="#5b00ff" d="M167.5,77.1l9,-0.6 18,0.4 12,1.6 18,4.6 16.5,6 12,5.9 12,7.2 8.3,6.8 7.4,9 3.8,6.3 2.3,2.7 0.7,1.8 2.2,2.7 0.8,1.8 4.1,5.7 0.4,1.5 2.5,3 0.5,1.7 2.4,2.8 0.6,1.8 2.2,2.7 0.8,1.9 4.1,5.6 0.4,1.6 2.5,2.9 0.3,1.5 2.5,3 0.7,1.9 4,5.6 0.5,1.5 2.4,3 0.4,1.5 4.2,6 5.8,10.5 3,7.5 5.7,24 3.2,18 1.3,13.5 0.3,18 -1.6,19.5 -2.9,18 -4.5,18 -0.8,1.1 -2.1,7.9 -0.9,1.2 -3.8,10.8 -6.4,13.5 -5.6,10.5 -11.9,18 -6,7.5 -12.8,13.9 -12,10.7 -15,10.7 -16.5,8.9 -15,5.9 -10.5,3 -18,3.2 -15,0.4 -15,-0.6 -16.5,-2.9 -15,-4.5 -18,-8 -15,-8.8 -12,-8.9 -12,-10.9 -12.6,-13.6 -9.1,-12 -7.6,-12 -8.8,-16.5 -7.5,-18 -4.9,-15 -0.5,-3.5 -0.7,-1 -0.7,-4.5 -1.1,-3 -0.5,-4.4 -0.8,-1.6 -0.6,-6 -1,-3 -0.6,-8.6 -0.9,-3.4 -0.6,-22.5 0.4,-22.5 1.2,-6 0.4,-7.5 1,-2.6 0.6,-6.4 0.9,-1.9 0.7,-5.6 0.8,-1.2 0.6,-4.8 0.9,-1.3 2.1,-9.2 0.9,-1.1 0.6,-3.4 0.9,-1.2 0.6,-3.3 1.1,-1.5 1.8,-6 1,-1.1 2.2,-6.4 2.6,-4.5 0.2,-1.5 1.3,-1.5 0.3,-1.5 7.7,-13.5 2.4,-3 0.4,-1.5 7.5,-10.5 10.3,-12 16.1,-15.9 13.5,-10.3 15,-8.8 7.5,-3.7 1.8,-0.3 1.2,-1.1 2.2,-0.4 0.8,-0.8 3.3,-0.7 1.2,-1 3,-0.5 1.5,-1 3.4,-0.5 1.1,-0.9 4.6,-0.6 1.4,-0.9 4.5,-0.4 3,-1.1z"/>
<path fill="#3300ff" d="M170.5,77.3l15,-0.2 12,0.9 13.5,2.2 11.9,3.3 13.3,4.5 13.3,6 12.5,7 10.7,8 6.3,7.5 12.3,18 31.4,49.5 9.2,16.5 2.5,7.5 6,25.5 2.7,16.5 1.2,13.5 0.3,13.5 -1.2,19.5 -2.9,19.5 -4.4,18 -6.1,18 -7.5,16.5 -9.2,16.5 -10.4,15 -10.9,12.9 -11.2,11.1 -11.3,9.4 -13.5,9 -18,9 -12,4.5 -18,4.4 -13.5,1.6 -19.5,0 -13.5,-1.6 -13.5,-3.1 -14.1,-4.7 -15.9,-7.3 -15,-9.1 -12,-9.1 -12,-11.1 -10.5,-11.7 -11,-14.7 -7.4,-12 -9.1,-18 -6,-15 -6.1,-19.5 -4.5,-22.5 -1.7,-15 -0.4,-21 0.5,-18 3,-22.5 2.9,-13.5 7.6,-24 6.4,-15 8.8,-16.5 8.9,-13.5 12,-15 14.1,-14.2 15,-11.9 9,-5.8 15,-7.9 15,-5.8 12,-3.1 7.5,-1.4z"/>
<path fill="#0b00ff" d="M176.5,77.5l15,0.5 12,1.4 11.8,2.6 18.8,6 14,6 12.4,6.6 10.5,7.4 4,4 10,13.5 16.5,25.5 20.8,33 9.2,16.5 4,14.1 5.9,27.9 1.6,11.2 1.1,15.8 -0.5,18 -1.8,18 -3,16.5 -4.5,16.5 -6,16.5 -7.8,16.5 -9,15.5 -10.5,14.8 -10.5,12.2 -12,11.5 -13.5,10.6 -14.6,8.9 -16.4,7.5 -13.6,4.5 -13.9,3 -15,1.6 -14.2,-0.1 -15.8,-1.9 -17,-4.1 -16.2,-6 -14.9,-7.5 -11.9,-7.7 -13.2,-10.3 -12.3,-11.9 -10.5,-12.3 -10.5,-15 -9.2,-16.3 -7.5,-16.5 -5.9,-16.5 -4.8,-18 -3,-16.5 -1.8,-18 -0.3,-16.5 0.7,-18 3,-22.5 4.5,-19.5 5.9,-18 5.8,-13.5 7.7,-15 10.7,-16.5 12,-15 12.2,-12.4 16.5,-13.3 12,-7.6 9,-4.7 10.5,-4.6 13.5,-4.3 15,-3z"/>
<path fill="#001cff" d="M161.5,78.9l13.5,-1 13.5,0.4 9,0.8 14.8,2.9 23.4,7.5 14,6 13.8,7.4 10.5,8.3 8.6,11.3 12.9,19.5 23.7,37.5 8.1,13.5 3.8,7.5 2.9,10.1 4.5,19.9 3,16.3 1.2,10.7 0.8,13.5 -0.6,19.5 -2.3,19.5 -3.6,17.8 -6,19.1 -6,14.6 -9,17.4 -10.5,16.2 -10.5,13.3 -12.1,12.6 -12.4,10.5 -13.2,9 -13.9,7.5 -14.9,6 -16.6,4.5 -14.4,2.1 -15,0.5 -15,-1.2 -15,-2.9 -18.8,-6 -13.4,-6 -13,-7.5 -14.5,-10.5 -12.3,-11 -10.5,-11.4 -10.5,-13.8 -9,-14.4 -9,-17.9 -7.5,-19.2 -4.7,-15.8 -3.1,-15 -2.9,-22.5 -0.5,-16.5 0.4,-18 1.6,-15 4.3,-22.5 4.7,-16.5 7.5,-19.5 7.5,-15 9.2,-15 8.9,-12 11.9,-13.5 11.3,-10.5 13.8,-10.5 15.6,-9.2 13.5,-6.1 15,-4.7z"/>
<path fill="#0044ff" d="M164.5,78.9l10.5,-0.6 16.1,0.7 11.1,1.5 12,3 10.3,3.8 12.4,3.7 17.6,7.5 9,4.9 10.5,8.2 5.2,6.4 10.2,15 26.8,42 12.4,21 2.4,5.6 1.5,5.5 4.5,19.8 3,14.9 1.9,14.2 1,15 -0.5,19.5 -2.2,19.5 -3.3,16.5 -4.4,15.1 -7.5,19 -9,17.4 -10.5,16.4 -10.5,13.3 -11.2,11.8 -12.1,10.5 -12.8,9 -16.7,9 -15.3,6 -15.9,4.1 -13.5,1.9 -18,0.4 -16.6,-1.9 -18.2,-4.5 -12.7,-4.5 -15.8,-7.5 -12.2,-7.5 -12.1,-9 -12.9,-11.8 -12,-13.6 -9,-12.4 -9,-15 -7.5,-15.2 -7.5,-19.3 -4.5,-15.4 -3,-14.3 -2.9,-22.5 -0.6,-16.5 0.4,-16.5 1.7,-16.5 4.3,-22.5 4.6,-16.2 7.5,-19.5 7.5,-15.1 9,-14.7 10.5,-14.1 12,-13.2 11.8,-10.7 14.3,-10.5 16.1,-9 14.8,-6.1 10.5,-3.1z"/>
<path fill="#006cff" d="M167.5,78.9l10.5,-0.2 13.5,1 6.2,0.8 12.7,3 12.6,5.5 14.3,3.5 15.7,6 9,4.5 12,9 7.1,9 8.1,12 27.6,43.5 11.5,19.5 4.2,14 6,28 1.5,9 1.8,16.5 0.4,16.5 -0.8,16.5 -2.9,20.5 -4.5,18.7 -6,16.9 -6,13.3 -9,16.3 -10.5,15.5 -10.5,12.7 -12.1,12.1 -13,10.5 -14.1,9 -11.9,6 -15.9,6 -14,3.5 -16.5,2.1 -16.5,-0.1 -16.5,-2.2 -13.6,-3.3 -17.1,-6 -12.8,-6 -14.9,-9 -13.6,-10.4 -12,-11.3 -12,-14 -9,-12.9 -9,-15.5 -7.5,-16 -6,-15.9 -4.5,-15.5 -3.7,-19 -2.1,-19.5 -0.4,-19.5 1,-18 2.2,-16.4 4.5,-20.4 6,-18.7 6,-14.4 9,-17.1 9,-13.9 10.5,-13.3 11.1,-11.8 13.9,-12 13,-9 13.8,-7.5 14.5,-6 17.5,-4.5z"/>
<path fill="#0093ff" d="M157,80.5l10.5,-1.2 7.5,-0.2 17,1.4 8.5,1.5 5.4,1.5 6.2,3 -0.9,6 0.3,1.5 2.5,1.4 4.5,0.4 7.5,-0.7 7.5,1.3 4.5,-1.2 7.5,1.5 9,3.2 6,2.8 13.5,9.8 6.9,8.5 7.2,10.5 28.5,45 11.4,19.5 3,11 6,28.7 3,18.8 1.4,16.5 -0.4,21 -2.3,21 -3.2,16 -6,18.7 -6,14.1 -9,16.9 -9,14 -10.5,13.5 -11.1,11.8 -11.9,10.5 -12.8,9 -16.5,9 -15.1,6 -10.6,3 -17.9,3 -18.1,0.3 -15.8,-1.8 -17.9,-4.5 -13.2,-4.5 -13.7,-6 -13.3,-7.5 -14.6,-10.5 -10.3,-9 -10.7,-11.4 -9,-11.4 -10.5,-16.2 -7.5,-14.2 -7.5,-17.6 -6,-18.3 -3,-12.7 -3,-18.9 -1.4,-18.8 0.1,-16.5 1.3,-17.5 3,-18.9 4.5,-18.3 6,-17.4 7.5,-16.8 9,-16 10.5,-15.1 10.5,-12.3 13.5,-13.1 13.6,-10.6 11.9,-7.5 15.6,-7.5 12.8,-4.5z"/>
<path fill="#00bbff" d="M160,80.4l9,-0.8 9,0.2 16.5,2.1 5.8,1.6 2.8,1.5 -1.8,12 0.8,1.5 1.4,0.6 3,0.4 19.5,-0.2 7.5,1.3 10.5,-2.3 3,0.2 7.5,2.2 7.5,3.5 13.5,10.4 5.1,6.4 9.2,13.5 26.6,42 10.1,17.7 4.5,17.9 6,32.8 3,22.2 0.4,17.4 -0.4,12.5 -3,22.8 -3,13.1 -6,17.5 -6,13.3 -9,16.5 -9,13.6 -10.5,13.3 -10.4,10.9 -12.1,10.5 -10.5,7.5 -13.3,7.5 -13.4,6 -14,4.5 -15.3,3 -10,0.8 -9,0.1 -11.4,-0.9 -8.1,-1.5 -5.2,-1.5 -6.8,-4.1 -13.5,-5.6 -15.1,-2.3 -10.1,-4.5 -10.4,-6 -10.8,-7.5 -10.6,-9 -10.5,-10.8 -10.5,-13.1 -9,-13.8 -9,-16.8 -7.5,-17.6 -6,-18.4 -3,-13 -2.9,-19.5 -1.2,-19.5 0.4,-19.5 2.2,-20.5 3,-15.5 4.5,-16.6 6,-16.5 7.5,-16.1 9,-15.5 10.5,-14.7 10.5,-12.1 12.6,-12 13.5,-10.5 12,-7.5 15.6,-7.5 13.2,-4.5z"/>
<path fill="#00e3ff" d="M161.5,80.5l9,-0.5 7.5,0.4 9.9,1.6 5.5,1.5 1.1,1.5 -3.1,15 0.2,1.5 1.6,1.5 5.8,0.4 16.5,-1.5 16.5,1.8 15,-3.3 3,0.1 4.5,1 7.5,3.3 15,11.7 10.7,15 33,52.5 4.2,7.5 3.1,12.7 0.5,5.3 -0.5,2.6 -10.4,3.4 -4.6,2.6 -4.5,4.9 -5.2,7.5 -1,4.5 -0.8,13.5 0.4,6 1.2,4.5 2.1,3 3.3,1.8 28.5,8.9 1.5,3.5 0.7,14.3 -0.6,13.5 -2.8,19.5 -1.8,7.7 -4.5,13.9 -6,14.4 -10.5,19.5 -9,13.7 -10.5,13.4 -9,9.5 -10.9,9.9 -12.2,9 -13.1,7.5 -13.2,6 -13.5,4.5 -14.7,3 -12.4,0.8 -10.9,-0.8 -10.1,-14.2 -3.2,-2.3 -6.8,-3 -15.8,-6 -13.2,-3.7 -10.5,-1.4 -25.5,-1.4 -3,-0.9 -4.5,-3.1 -7.5,-6.1 -10.5,-10.7 -10.5,-13.1 -9,-13.7 -7.5,-13.7 -7.5,-16.8 -6,-17.1 -4.5,-18.7 -2,-13.1 -1.5,-16.5 -0.3,-19.5 1,-15 2.8,-20 4.5,-19.2 6,-17.8 7.5,-17.1 9,-16.1 10.5,-15.2 12,-14.1 13,-12.5 13.6,-10.5 12,-7.5 15.7,-7.5 13.5,-4.5z"/>
<path fill="#00fff4" d="M166,80.5l10.5,0.4 5.5,1.1 3.6,1.5 0.3,1.5 -2.5,19.5 0.6,4.5 7.5,-1.6 24,-2.9 3,0.2 7.5,1.8 4.5,0.2 21,-4.5 4.7,0.8 6.5,3 14.3,11.1 6.4,8.4 34.4,54 4.3,7.5 1.4,5 0,4.7 -6,2.9 -10.5,8.3 -17.1,10.6 -5.3,4.5 -1.5,3 -1.6,12.5 -1.6,5.5 -2.9,4.3 -16.1,18.2 -1.5,3 0.6,3 2.1,3 7.4,8.9 3,1.9 16.5,1.2 23.8,9 3.2,0.7 6,-0.6 15,-4.7 0.5,10.6 -2,19.4 -3,12.6 -4.5,13.1 -7.5,16.5 -12,20.6 -13.5,18.4 -12.6,13.4 -15.9,13.5 -12.2,7.5 -8.7,4.5 -10.5,4.5 -9,3 -6.7,1.5 -2.7,0 -6.8,-6 -9.6,-10.5 -5.8,-3 -55.5,-16.2 -30,-7.9 -7.5,-1.3 -21,-0.7 -3,-0.8 -9,-9.2 -9,-11.9 -7.5,-11.9 -7.5,-14.2 -7.5,-17.4 -4.5,-13.2 -3,-11.8 -3,-16.9 -1.7,-18.1 -0.2,-21 1.9,-22.5 3,-16.8 4.5,-17.4 6,-16.7 7.5,-16.4 9,-15.7 10.5,-14.9 12,-13.7 12,-11.4 15.8,-12 12.7,-7.5 16.9,-7.5 16.1,-4.3zM182.4,146.5l-1.8,3 -0.7,3 -1.7,31.5 1.2,33 -1.1,9 0.4,3 2.3,3 4.5,2.3 19.5,-0.3 3,0.5 1.5,1.2 1.5,3.8 5.2,28.5 1.9,3 4.9,5.1 1.5,1 3,0 9.3,-4.6 4.6,-3 2.9,-3 3.8,-6 2.6,-6 2.3,-8.1 3.8,-17.4 -0.3,-3 -1.3,-1.5 -2.2,-1.3 -5,-1.7 -23.5,-2.8 -3,-1.3 -1.2,-1.9 -0.7,-3 -2.3,-21 -1.3,-4.5 -6.5,-7.7 -18.6,-26.8 -6.9,-6.6z"/>
<path fill="#00ffcc" d="M155.5,82l10.5,-1 7.5,0.3 4.5,0.7 1.5,0.7 1.4,0.8 0.2,1.5 -1.6,18 -2.3,9 -0.3,27 -0.8,3 -5.4,6 -1.5,3 -2,33 0,19.5 -1.2,4.5 -7.8,16.5 -0.4,3 1.6,3 18.6,17.3 4.5,3.6 3,1.1 7.5,0.3 2.9,1.7 1.2,3 1.6,9 1.2,3 2.5,3 13.1,11.7 3,4.2 6,10.5 3,2.7 9,1.9 16.5,1.3 36,0 24,1.3 12,1.4 4.5,-0.2 4.5,-1.2 1.5,0.8 -0.3,9.1 -1.2,10.5 -4.5,15.4 -7.5,17.7 -12,20.9 -10.5,15.2 -13.5,15.7 -10.3,9.6 -7.3,6 -7.1,4.5 -3.6,1.5 -22.7,-7.1 -18,-2.2 -33,-7 -57.1,-16.7 -7.4,-2.8 -15,-9 -6,-2.5 -13.5,-2.8 -18,-1.6 -7.5,-1.9 -6,-7.9 -9,-16.1 -7.5,-17.1 -4.5,-13.2 -4.5,-20 -2.7,-22.1 -0.5,-19.5 1.2,-19.5 3.5,-22.7 4.5,-17.9 6,-16.9 7.5,-16.5 9,-15.9 12,-16.8 13.3,-14.8 13.4,-12 16.9,-12 14.1,-7.5 15.7,-6zM140.1,275.5l-2.1,1.5 -0.8,1.5 0.1,1.5 0.9,1.5 2.3,1.3 1.5,-0.4 1.5,-1.8 1.6,-5.1 -1.6,-1.2zM251.5,104.4l4.5,-0.3 5.4,1.9 17.1,13.3 10.7,15.2 29.9,48 -0.1,2.9 -15.6,13.6 -6.9,4.5 -15,8.4 -3,0.2 -1.5,-0.5 -25.5,-17.2 -12,-5.6 -5.1,-6.3 -17.4,-13.6 -13.3,-17.9 -4.8,-3 -6.3,-3 -1.5,-1.5 -0.7,-1.5 -0.4,-4.5 0,-22.5 1.1,-3 1.9,-1.3 6,-1.4 16.5,-2.2 4.5,0.3 7.5,2 3,0z"/>
<path fill="#00ffa4" d="M158.5,82l12,-0.4 3.2,0.4 3.8,1.5 0.3,1.5 -1.2,15 -0.6,3 -3.5,7.5 -0.3,22.5 -0.8,4.5 -2.4,3 -8.9,7.5 -1.7,3 -3,37.5 -8.7,25.5 -5.7,13.5 -3.9,22.5 -1.7,4.5 -5.4,9 -6.5,9 -0.1,1.5 0.9,3 7.5,12 2.7,2.8 3,1.7 6,2.6 3,0.1 1.5,-1.1 4.5,-5.4 3,-2.1 24,-13.9 3,-1 1.5,0.2 7.5,5 18,14.9 5.4,5.2 5.1,7.2 4.5,2.3 15,3 9,1 33,-0.5 31.5,1.6 19.5,3.3 1,1.6 0.2,4.5 -0.8,6 -3.4,11.9 -6,14.7 -7.5,12.9 -3,4.1 -13.5,11.7 -21.7,22.7 -7.9,6 -4.9,2.6 -3,0.1 -9,-2.4 -6,-0.8 -21,-1.8 -22.5,-1.1 -21,-4.2 -42,-12.9 -37.5,-22.7 -4.5,-2.3 -16.5,-2.8 -16.5,-1 -16.5,-4.2 -1.5,-1.1 -1.5,-2.2 -4.5,-8.4 -7.5,-18.7 -4.5,-17.5 -3,-18.9 -1.4,-22.2 0.9,-22.5 3.5,-24 4.5,-18.4 6,-17.1 7.5,-16.7 10.5,-18.3 10.5,-14.6 12.3,-13.9 13.2,-12.1 16.3,-11.9 16.6,-9 7,-3 9.1,-3zM256,105.8l3,0.2 3,1.3 4.5,3.9 12,8.6 9,12.3 24,38.1 0.4,1.8 2.6,3 0,2 -16.5,14.4 -15,8.9 -3,0.3 -3,-1.4 -21.4,-15.2 -9.9,-6 -13.7,-13.7 -9,-7.7 -5.3,-5.6 -5.3,-3 -14.9,-5.8 -1.7,-1.7 -0.6,-1.5 -0.2,-22.5 1,-2.4 1.5,-1.2 4.5,-1.3 15,-1.9 3,0.1 7.5,2 3,-0.1z"/>
<path fill="#00ff7d" d="M164.5,82l7.5,0.8 2,0.7 0.5,1.5 -1.6,16.5 -3.9,6 -1.3,3 -0.7,21 -1,2.7 -1.5,1.7 -13.4,10.6 -3.5,4.5 -3.5,30 -1.1,6 -5.5,15.9 -10.3,21.6 -3.1,10.5 -6.1,11.4 -6,14 -1.4,6.1 -0.4,4.5 0.5,4.5 1.3,2.6 6,5.8 10.8,15.6 4.2,2.6 15,7.2 3,0.9 3,-0.3 25.5,-9.7 4.5,-0.7 3,0.6 19.5,7.3 9,5.7 6,2.9 3.9,3 18.6,17.4 10.5,6.3 4.5,1.8 1.5,-0.1 1.7,-1.4 9.2,-19.5 2.4,-3 1.7,-0.6 3.5,-0.9 8.5,-0.8 22.5,0.6 21,3.3 1,1.4 0,4.5 -2.5,9.3 -4.5,11.7 -3,5.8 -1.5,2.1 -1.5,1.1 -12,2.8 -3,-0.1 -1.5,-1.1 -3,-8.8 -6,-8.7 -9,-11.1 -1.5,-0.9 -1.5,0.5 -1.3,6.4 -1.5,25.5 -1.9,4.5 -7.3,7.9 -4.5,4 -21,13.1 -4.5,2.1 -4.5,0.6 -6,0 -48,-2.7 -31.5,-6.7 -3,-1.1 -2.7,-2.2 -10.8,-13.1 -6,-5.9 -19.5,-13.6 -3,-0.7 -10.5,2.1 -16.5,-1.3 -13.5,2 -4.5,-0.8 -15,-4.6 -1.5,-0.6 -1.5,-2 -4.5,-9.4 -3,-8.1 -3,-11 -3,-15.6 -1.5,-11.9 -0.8,-13.5 0.3,-21 2,-19.5 4.5,-21.9 4.5,-15 7.5,-18.6 7.5,-14.8 10.5,-16.6 12,-15.2 14.8,-14.9 15,-12 14.3,-9 16.1,-7.5 9.4,-3 6.8,-1.5zM253,108.9l6,-1.1 3,1.1 4.5,5.1 7.5,3.8 4.5,3.1 3,2.9 6.4,9.2 10.3,16.5 0.5,1.5 2.5,3 0.2,1.5 2.6,3.1 1.9,4.4 2.6,3 0,0.9 -1.8,3.6 -4,4.5 -10.7,9.3 -7.5,4.4 -3,0.3 -1.5,-0.5 -13.5,-9.1 -15,-8 -18.2,-18.9 -2.8,-2.2 -9,-3.9 -17,-5.9 -2.7,-1.5 -1.3,-1.5 -0.7,-4.5 0,-13.5 0.7,-3 1.7,-1.5 5.4,-1.5 10.9,-1.3 9,1.8 3,-0.1z"/>
<path fill="#00ff55" d="M154,83.4l12,-0.6 4.2,0.7 1.1,1.5 -1.5,15 -1.7,3 -3.9,4.5 -1.3,3 -0.5,15 -0.6,3 -0.7,1.5 -2.6,2.7 -13.5,10.2 -5.5,3.6 -2.8,3 -1.1,4.5 -5,31.5 -2.3,6 -14.8,31.9 -8.8,22.1 -1.7,6.7 -1.6,14.3 -0.4,19.5 0.3,4.5 0.8,3 0.9,1.4 1.5,1 10.5,3.1 3,2 6,7 7.7,5 1.1,1.5 0.2,1.5 -1,3 -6.5,12.4 -1.5,1.8 -1.5,0.8 -3,-0.8 -4.5,-2.5 -3,-0.3 -18,5.8 -13.5,0 -19.5,4 -4.5,-0.6 -16.5,-4.4 -1.5,-1.2 -1.5,-2.8 -3,-7.7 -4.5,-18.7 -3,-22.9 -0.4,-21.4 1.9,-24 3,-16.7 3,-12.3 3,-9.6 7.5,-18.8 9,-17.6 10.5,-16.2 13.5,-16.5 12.5,-12.3 17.1,-13.5 15.1,-9 9.6,-4.5 8.2,-3zM251.5,111.7l6,-1.1 3,0.7 6,7.9 3,1.1 7.5,1.5 4.5,2.8 3,3.6 3.2,4.8 0.5,1.5 2.4,3 0.3,1.5 4.2,6 0.3,1.5 2.6,3 0.1,1.5 0.8,1.5 -6.6,16.5 -2.6,4.5 -3.7,3.3 -1.5,0.5 -3,-0.3 -24,-12 -13.8,-14 -4.2,-3.5 -3,-1.3 -9,-1.4 -6,-2.8 -12.8,-4.5 -2.4,-1.5 -1,-1.5 -0.6,-3 0,-10.5 1.1,-3 2.2,-1.4 10.5,-1.8 9,1.3 4.5,-0.3zM314.5,326.2l6,0.1 7.5,1.4 1.5,0.7 0.3,2.6 -3.3,10 -2.3,3.5 -3.7,2.4 -7.5,1.4 -1.7,-0.8 -0.9,-3 0.5,-13.5 0.6,-3 1.5,-1.4zM161.5,338.3l3,-0.9 1.5,0 1.5,0.8 1.4,3.3 1.5,7.5 2,3 3.1,3 0.7,1.5 -0.1,4.5 -3.6,16.5 -0.6,1.5 -1.4,1.3 -1.5,0.5 -4.5,-0.3 -7.5,-1.4 -4.5,-1.1 -3,-1.4 -7,-8.1 -3.7,-6 -0.3,-1.5 0.5,-1.5 8.3,-7.5 6.7,-8.8 3,-2.8z"/>
<path fill="#00ff2d" d="M157,83.5l8.2,0 2.9,1.5 -1.4,13.5 -1.7,3 -5.5,6 -1.5,3 -1,13.7 -3,3.9 -10.5,8 -4.5,2.5 -9,3.8 -3.1,2.6 -1,3 -4.9,25.3 -4.2,9.2 -6.4,18 -11.2,25.5 -3.2,9 -3.8,34.5 -0.2,36 0.5,3.7 1.2,2.3 6.3,3.6 1,0.9 -0.7,1.5 -2.2,1.5 -7.1,2.8 -33,6.9 -21,-2.3 -1.5,-2.3 -3,-9.5 -3,-13.8 -1.5,-9.8 -1.5,-18.5 0.4,-19.5 2.6,-23.2 4.5,-20.6 6,-18 7.5,-17.3 9,-16.3 10.5,-15.4 12,-14.2 13.5,-13 17.6,-13.5 15.9,-9 6.6,-3 8.6,-3 6.8,-1.7zM256,113.3l3,0.6 1.2,1.1 3.3,6.1 3,3.1 3,0.9 12,1.9 3,1.5 0.2,1.5 2.9,3 0.1,1.5 1.3,1.4 0.3,1.6 1.2,1.5 -9,22.5 -1.5,2.3 -1.4,0.7 -4.6,-0.8 -10.5,-5.1 -11.1,-10.6 -5.4,-4 -4.5,-1.3 -10.5,-0.2 -3,-0.5 -6,-3.7 -10,-3.8 -2.1,-1.5 -0.9,-1.5 -0.4,-3 0.1,-6 1.3,-2.7 1.5,-0.9 7.5,-1.5 7.5,0.8 6,-0.5zM155.5,364l1.5,0.2 1.6,1.3 0.4,1.5 -0.4,1.5 -1.6,1.1 -3,-0.6 -1.4,-2 0.3,-1.5z"/>
<path fill="#00ff06" d="M149.5,85l9,-0.9 6.1,0.9 -1,12 -1.7,3 -8.1,9 -0.9,3 -0.6,7.5 -1.7,3 -10.1,7.5 -19.5,7.9 -3,1.9 -1.7,2.2 -3.5,15 -11.5,22.5 -14.2,42 -4.7,54 -0.4,3.6 -1.5,4.4 -1.5,1.5 -4.5,2.3 -4.5,3.9 -16.5,19.6 -1.5,0.8 -3,0.5 -15,-1.5 -1.5,-2 -1.5,-5.6 -3,-18.3 -0.9,-18.2 0.9,-21.6 3,-20.2 4.5,-18.9 6,-16.7 7.5,-16.7 7.5,-13.6 10.5,-15.5 12,-14.3 12.8,-12.5 16.9,-13.5 12.2,-7.5 16.6,-7.5zM253,116.3l3,-0.2 1.5,0.4 1.5,1.4 3.8,7.6 2.2,2.8 3,1.4 7.5,1.8 2.5,1.5 0.6,1.5 -0.5,3 -3.8,10.5 -2.1,3 -1.2,0.5 -3,-0.7 -11,-8.8 -4,-1.9 -4.5,-0.6 -15,0.4 -3,-0.6 -6,-4.4 -7.5,-3.6 -1.4,-1.3 -0.8,-1.5 -0.3,-3 0.8,-3 3.2,-2 15,-0.7z"/>
<path fill="#22ff00" d="M154,84.9l5.6,0.1 1.7,1.5 -0.8,9 -1.7,3 -9.7,10.5 -1.6,6 -1.5,3 -7,5 -27,10.5 -4.6,2.5 -2.2,3 -18.2,34.5 -5,12.4 -14.7,31.1 -0.5,4.5 -0.2,15 0.8,30 -0.5,3 -1.4,3 -12,15.7 -3,3 -1.5,0.8 -3,0.4 -15,-1 -1.5,-4.1 -1.5,-12.4 -0.3,-8.4 0.4,-13.5 1.4,-15.4 1.5,-9.3 4.5,-20.1 3,-9.4 9,-21.2 7.5,-14.4 12,-18.4 10.5,-12.7 10.6,-11.1 17.6,-15 10.8,-7.5 14.5,-7.5 7.7,-3 5.6,-1.5zM250,119.4l4.5,-0.5 1.5,0.3 1.5,1.3 5.3,12.5 0.3,1.5 -1.1,1.3 -28.5,1.3 -3,-1.3 -10,-8.8 -0.3,-1.5 0.8,-1.5 2,-0.9z"/>
<path fill="#4aff00" d="M148,86.3l6,-0.4 3.6,0.6 0.3,3 -0.6,4.5 -1.5,3 -10.5,10.5 -4.8,6.6 -8.4,3.9 -18.6,6.2 -3,0.5 -1.5,-0.4 -1.5,-1.2 -4.8,-11.1 0.1,-1.5 2.7,-3 9.7,-7.5 10.5,-6 9.9,-4.5zM245.5,122.4l6,-0.5 3.1,0.6 1.2,1.5 0.9,3 0,3 -0.9,1.5 -3.6,1.5 -3.7,0.6 -13.5,0.8 -3,-1.3 -1.5,-1.3 -2.5,-3.3 -0.5,-1.5 1,-1.5 2,-0.7zM41.5,195.3l1.4,0.7 3.8,13.5 -0.7,2.9 -1.9,3.1 -0.7,3 4.7,31.5 1,12 0,6 -1.6,3.2 -3,1.6 -13.5,0.1 -1.5,-0.3 -0.4,-10.6 0.4,-15.2 1.5,-12.7 6,-27.7z"/>
<path fill="#71ff00" d="M143.5,87.8l6,-0.8 3,0.2 1.4,0.8 0.2,4.5 -2.8,4.5 -10.8,9.7 -3,1.5 -6,1 -15,4 -3,-0.6 -1.5,-1.7 -1.9,-4.9 0.9,-1.5 3.5,-3 15.4,-9 7.1,-3zM242.5,125.5l4.5,0.4 1.7,1.1 -0.2,1.5 -1.6,1.5 -5.9,1.5 -4.5,0.1 -2.7,-1.6 -0.7,-1.5 1.1,-1.5z"/>
<path fill="#99ff00" d="M140.5,89.2l7.5,-1 1.5,0.9 0.6,1.9 -0.3,1.5 -1.8,2.7 -7.5,6.3 -4.5,1.5 -16.7,-1.5 -0.1,-1.5 6.5,-4.5 8.9,-4.5z"/>
<path fill="#c1ff00" d="M137.5,90.8l4.5,-0.4 1.5,0.6 -1.1,3 -3.4,3 -4.5,1.3 -4.5,-1.1 -1.5,-1.2 -0.1,-0.5 2,-1.5z"/>
</g>
<ellipse cx="183.5" cy="269.7" rx="164.0" ry="195.7" fill="none" stroke="#000" stroke-width="1.8"/>
<polyline points="152.7,73.4 183.5,39.6 214.4,73.4" fill="none" stroke="#000" stroke-width="1.7"/>
<path d="M18.7,236.2 C11,238 6.2,262 6.2,284 C6.2,306 11,330 18.7,332.2 Z" fill="#fff" stroke="#000" stroke-width="1.5"/>
<path d="M348.4,236.2 C356,238 361.2,262 361.2,284 C361.2,306 356,330 348.4,332.2 Z" fill="#fff" stroke="#000" stroke-width="1.5"/>
<rect x="72.1" y="163.7" width="21.4" height="21" fill="#000"/><rect x="273.5" y="163.7" width="21.4" height="21" fill="#000"/><rect x="19.4" y="336.1" width="21.4" height="21" fill="#000"/><rect x="326.2" y="336.1" width="21.4" height="21" fill="#000"/>
<circle cx="139.5" cy="109.5" r="4.5"/><circle cx="183.5" cy="107.7" r="4.5"/><circle cx="227.5" cy="109.5" r="4.5"/><circle cx="104.0" cy="134.8" r="4.5"/><circle cx="142.3" cy="149.4" r="4.5"/><circle cx="183.5" cy="148.0" r="4.5"/><circle cx="224.7" cy="149.4" r="4.5"/><circle cx="263.0" cy="134.8" r="4.5"/><circle cx="126.3" cy="183.6" r="4.5"/><circle cx="156.7" cy="187.0" r="4.5"/><circle cx="183.5" cy="188.4" r="4.5"/><circle cx="210.3" cy="187.0" r="4.5"/><circle cx="240.7" cy="183.6" r="4.5"/><circle cx="54.7" cy="214.5" r="4.5"/><circle cx="88.7" cy="222.3" r="4.5"/><circle cx="120.0" cy="225.0" r="4.5"/><circle cx="152.5" cy="227.8" r="4.5"/><circle cx="214.5" cy="227.8" r="4.5"/><circle cx="247.0" cy="225.0" r="4.5"/><circle cx="278.3" cy="222.3" r="4.5"/><circle cx="312.3" cy="214.5" r="4.5"/><circle cx="80.5" cy="270.0" r="4.5"/><circle cx="114.5" cy="270.0" r="4.5"/><circle cx="149.0" cy="270.0" r="4.5"/><circle cx="183.5" cy="270.0" r="4.5"/><circle cx="218.0" cy="270.0" r="4.5"/><circle cx="252.5" cy="270.0" r="4.5"/><circle cx="286.5" cy="270.0" r="4.5"/><circle cx="320.4" cy="270.0" r="4.5"/><circle cx="54.7" cy="325.5" r="4.5"/><circle cx="88.7" cy="317.7" r="4.5"/><circle cx="120.0" cy="315.0" r="4.5"/><circle cx="152.5" cy="312.2" r="4.5"/><circle cx="183.5" cy="311.0" r="4.5"/><circle cx="214.5" cy="312.2" r="4.5"/><circle cx="247.0" cy="315.0" r="4.5"/><circle cx="278.3" cy="317.7" r="4.5"/><circle cx="312.3" cy="325.5" r="4.5"/><circle cx="69.4" cy="368.4" r="4.5"/><circle cx="98.5" cy="363.6" r="4.5"/><circle cx="126.3" cy="356.4" r="4.5"/><circle cx="156.7" cy="353.0" r="4.5"/><circle cx="183.5" cy="351.6" r="4.5"/><circle cx="210.3" cy="353.0" r="4.5"/><circle cx="240.7" cy="356.4" r="4.5"/><circle cx="268.5" cy="363.6" r="4.5"/><circle cx="297.6" cy="368.4" r="4.5"/><circle cx="104.0" cy="405.2" r="4.5"/><circle cx="142.3" cy="390.6" r="4.5"/><circle cx="183.5" cy="392.0" r="4.5"/><circle cx="224.7" cy="390.6" r="4.5"/><circle cx="263.0" cy="405.2" r="4.5"/><circle cx="139.5" cy="430.5" r="4.5"/><circle cx="183.5" cy="432.3" r="4.5"/><circle cx="227.5" cy="430.5" r="4.5"/>
<circle cx="35.0" cy="205.7" r="4.9" fill="#b23ab0" fill-opacity="1"/><circle cx="46.5" cy="270.0" r="4.9" fill="#b23ab0" fill-opacity="1"/><circle cx="183.5" cy="228.8" r="4.9" fill="#b23ab0" fill-opacity="1"/>
<rect x="376.3" y="414.06" width="25.0" height="10.04" fill="#8200ff"/><rect x="376.3" y="404.42" width="25.0" height="10.04" fill="#5b00ff"/><rect x="376.3" y="394.78" width="25.0" height="10.04" fill="#3300ff"/><rect x="376.3" y="385.14" width="25.0" height="10.04" fill="#0b00ff"/><rect x="376.3" y="375.50" width="25.0" height="10.04" fill="#001cff"/><rect x="376.3" y="365.86" width="25.0" height="10.04" fill="#0044ff"/><rect x="376.3" y="356.22" width="25.0" height="10.04" fill="#006cff"/><rect x="376.3" y="346.58" width="25.0" height="10.04" fill="#0093ff"/><rect x="376.3" y="336.94" width="25.0" height="10.04" fill="#00bbff"/><rect x="376.3" y="327.30" width="25.0" height="10.04" fill="#00e3ff"/><rect x="376.3" y="317.66" width="25.0" height="10.04" fill="#00fff4"/><rect x="376.3" y="308.02" width="25.0" height="10.04" fill="#00ffcc"/><rect x="376.3" y="298.38" width="25.0" height="10.04" fill="#00ffa4"/><rect x="376.3" y="288.74" width="25.0" height="10.04" fill="#00ff7d"/><rect x="376.3" y="279.10" width="25.0" height="10.04" fill="#00ff55"/><rect x="376.3" y="269.46" width="25.0" height="10.04" fill="#00ff2d"/><rect x="376.3" y="259.82" width="25.0" height="10.04" fill="#00ff06"/><rect x="376.3" y="250.18" width="25.0" height="10.04" fill="#22ff00"/><rect x="376.3" y="240.54" width="25.0" height="10.04" fill="#4aff00"/><rect x="376.3" y="230.90" width="25.0" height="10.04" fill="#71ff00"/><rect x="376.3" y="221.26" width="25.0" height="10.04" fill="#99ff00"/><rect x="376.3" y="211.62" width="25.0" height="10.04" fill="#c1ff00"/><rect x="376.3" y="201.98" width="25.0" height="10.04" fill="#e8ff00"/><rect x="376.3" y="192.34" width="25.0" height="10.04" fill="#ffee00"/><rect x="376.3" y="182.70" width="25.0" height="10.04" fill="#ffc600"/><rect x="376.3" y="173.06" width="25.0" height="10.04" fill="#ff9f00"/><rect x="376.3" y="163.42" width="25.0" height="10.04" fill="#ff7700"/><rect x="376.3" y="153.78" width="25.0" height="10.04" fill="#ff4f00"/><rect x="376.3" y="144.14" width="25.0" height="10.04" fill="#ff2800"/><rect x="376.3" y="134.50" width="25.0" height="10.04" fill="#ff0000"/>
<path d="M401.3,134.5V423.7" stroke="#222" stroke-opacity="0.7" stroke-width="1" fill="none"/>
<text class="c" transform="translate(403.2,160.6) scale(1.04,1)">1.8</text><text class="c" transform="translate(403.2,196.7) scale(1.04,1)">1.6</text><text class="c" transform="translate(403.2,232.8) scale(1.04,1)">1.4</text><text class="c" transform="translate(403.2,268.9) scale(1.04,1)">1.2</text><text class="c" transform="translate(403.2,305.0) scale(1.04,1)">1</text><text class="c" transform="translate(403.2,341.1) scale(1.04,1)">0.8</text><text class="c" transform="translate(403.2,377.1) scale(1.04,1)">0.6</text><text class="c" transform="translate(403.2,413.2) scale(1.04,1)">0.4</text>
<path d="M386.8,152.5H401.3M386.8,188.6H401.3M386.8,224.7H401.3M386.8,260.8H401.3M386.8,296.9H401.3M386.8,333.0H401.3M386.8,369.0H401.3M386.8,405.1H401.3" stroke="#000" stroke-width="1.1" fill="none"/>
<text class="l" transform="translate(3.8,37.8) scale(1.05,1)">B</text>
<text class="t" transform="translate(259.5,49.3) scale(1.05,1)">40</text><text class="t" transform="translate(297.0,49.3) scale(1.06,1)">Hz</text><text class="t" transform="translate(346.3,49.3) scale(1.06,1)">clean</text>
</g>
<g transform="translate(0,528)">
<g clip-path="url(#hc)">
<rect x="10" y="64" width="348" height="412" fill="#8200ff"/>
<path fill="#5b00ff" d="M167.5,77.1l10.5,-0.7 19.5,0.3 18,3 1.3,0.8 9.2,2.1 1.4,0.9 3.1,0.6 1.2,0.9 6.3,2 18,9 6,4.2 1.5,0.5 4.5,3.8 1.5,0.6 4.1,3.9 7.3,9 0.5,1.5 2.6,3 0.5,1.7 2.5,2.8 0.5,1.8 2.4,2.7 0.6,1.8 7.2,10.2 0.3,1.6 2.6,2.9 0.3,1.5 2.6,3 0.5,1.8 7.2,10.2 0.3,1.5 2.6,3 0.4,1.7 2.5,2.8 0.5,1.8 4.2,5.7 0.3,1.4 2.5,3.1 0.4,1.5 4.2,6 4.5,9 0.4,1.9 0.9,1.1 0.6,3.9 1.1,2.1 0.2,3 1.2,3 0.5,4.5 1,1.5 0.5,4.6 0.9,1.4 0.4,4.5 1.1,3 0.6,6.5 1,2.5 0.5,8.8 1,4.7 0.1,25.5 -1.3,9 -0.3,7.5 -1,2.9 -0.5,6.1 -1,3 -0.7,6 -0.8,1.1 -0.6,4.9 -0.9,1.5 -0.7,4.5 -0.8,0.9 -0.5,3.6 -1,1.5 -0.5,3 -2.5,6.1 -0.6,2.9 -0.9,1.1 -2,6.4 -1,1.1 -3.8,9.4 -9,16.5 -9.1,13.5 -5.8,7.5 -14.3,15.5 -12,10.7 -15,10.6 -16.5,8.9 -15,5.9 -10.5,3 -18,3.2 -15,0.5 -16.5,-0.6 -16.5,-3 -15,-4.7 -13.5,-5.7 -13.5,-7.5 -15,-10.6 -12,-10.6 -14.4,-15.6 -5.8,-7.5 -9,-13.5 -10.5,-19.5 -6.2,-15 -6,-18 -4.5,-19.5 -2.8,-21 -0.6,-24 0.4,-19.5 1.1,-6 0.4,-7.5 0.9,-2.5 0.5,-6.5 1.2,-3 0.4,-4.5 0.9,-1.4 0.5,-4.6 1,-1.5 0.6,-4.5 0.9,-0.9 0.5,-3.6 1.1,-1.5 0.4,-3 1,-1.3 0.5,-3.2 1,-1 0.7,-3.5 2.4,-4.5 2,-6 0.9,-0.9 0.5,-2.1 1,-1 0.5,-2 1,-1 2.1,-5 5.7,-9 0.4,-1.5 2.4,-3 0.5,-1.5 2.4,-2.8 0.6,-1.7 2.4,-2.6 2,-3.4 10.3,-12 16.2,-15.9 13.5,-10.3 13.5,-7.9 9,-4.5 1.9,-0.4 1.1,-1 6.5,-2 1,-0.9 8.2,-2.1 0.8,-0.7 4.8,-0.8 1.2,-0.8z"/>
<path fill="#3300ff" d="M170.5,77.3l10.5,-0.6 13.5,0.3 19.5,2.9 12,3.2 15,5.7 12,6 12,7.5 8.2,6.7 6.1,7.5 18,27 0.5,1.5 23.5,36 7.3,12 4.7,9 2.8,9 6.1,27 3,24 0.1,19.5 -1.6,18 -3.1,18 -4.6,18 -5.8,16.5 -7.4,16.5 -9.1,16.5 -9.3,13.5 -12.4,14.6 -10.5,10.4 -12,9.9 -13.5,9 -18,9 -12,4.4 -18,4.6 -12,1.6 -12,0.4 -10.5,-0.3 -13.5,-1.6 -13.5,-3.2 -13.5,-4.5 -13.5,-6.3 -15,-8.8 -12,-8.9 -13.3,-12.3 -10.9,-12 -12,-16.5 -8,-13.5 -8.7,-18 -6.1,-16.5 -4.4,-15 -3.2,-15 -2.8,-24 -0.5,-19.5 0.4,-18 2.8,-22.5 4.4,-19.5 5.9,-18 6.4,-15 8.8,-16.5 8.9,-13.5 10.7,-13.5 15.6,-15.7 15,-11.9 9,-5.7 15,-7.8 16.5,-6.2 10.5,-2.8z"/>
<path fill="#0b00ff" d="M173.5,77.4l16.5,-0.2 15,1.4 15,3.2 9,2.7 12,4.7 12,6.1 12,7.4 6,4.6 3.2,3.2 8,10.5 22.5,34.5 20.9,33 7.3,13.5 3.2,10.5 5.7,25.5 1.7,10.5 1.5,18 -0.1,15 -1.6,18 -2.8,16.5 -5.9,22.5 -4.8,13.5 -8.8,19.5 -7.8,13.5 -10.4,15 -12.3,14.2 -11.8,11.3 -13.5,10.5 -12.2,7.6 -15.3,7.4 -17.3,6 -13.9,3.1 -16.5,1.8 -15,-0.2 -14.6,-1.7 -13.3,-3 -17.1,-6 -15,-7.3 -12,-7.5 -13.8,-10.7 -13.2,-12.8 -10.8,-12.7 -10.4,-15 -8.8,-15.7 -7.7,-17.3 -5.8,-16.6 -4.6,-17.9 -3.1,-18 -1.5,-18 -0.2,-27 1.5,-18 3,-18 2.9,-12 6,-18 5.8,-13.5 7.7,-15 10.6,-16.5 12.1,-15 12.3,-12.4 10.5,-8.9 13.5,-9.2 16.5,-8.7 16.5,-6.2 19.5,-4.4z"/>
<path fill="#001cff" d="M163,78.8l15,-1.2 13.5,0.1 12,1.1 16,3.2 14,4.5 13.5,5.9 15.6,9.1 9.9,7.6 6.2,7.4 12.2,18 31.7,49.5 9.4,16.5 2.2,6 6.1,25.5 2.9,16.5 1,10.5 0.6,16.5 -1.5,21 -3.1,19.5 -4.5,18 -4.5,13.5 -7.5,18 -9,16.5 -9.2,13.8 -12,14.7 -12,12 -14.9,12 -11.7,7.5 -14.9,7.5 -16.3,6 -12.7,3.3 -16.5,2.3 -15.6,0.4 -15.9,-1.5 -14.3,-3 -13.9,-4.5 -13.7,-6 -15.5,-9 -12.2,-9 -12.9,-11.6 -10.5,-11.5 -10.5,-13.9 -9,-14.5 -7.5,-14.8 -6,-14.6 -6,-18.8 -4.5,-20.7 -2.1,-17.6 -0.9,-15 0.1,-22.5 1.1,-15 2.9,-18 4.5,-18 5.9,-16.5 8,-17.5 8.9,-15.5 10.6,-15 10.3,-12 12.5,-12 13.4,-10.5 14.9,-9 13.4,-6.3 18,-5.9z"/>
<path fill="#0044ff" d="M164.5,78.9l13.5,-1 16.5,0.3 16.5,2.2 12.7,3.1 12.8,4.5 12.9,6 12.8,7.5 10.3,7.9 8.1,10.1 15,22.5 26.8,42 9.3,16.5 2.3,6.4 6,25.1 3.1,18 0.8,9 0.6,16.5 -1.5,21 -3,19.1 -4.5,18 -6,17.6 -7.5,17 -9,16 -9,13.1 -10.5,12.6 -12.7,12.6 -12.9,10.5 -14,9 -15.2,7.5 -16.8,6 -12.1,3 -15.3,2.1 -15,0.4 -15,-1.3 -14,-2.7 -18.4,-6 -15.8,-7.5 -12.2,-7.5 -12,-9 -11.6,-10.6 -12,-13.4 -9,-12.2 -9,-14.5 -7.5,-15 -6,-14.8 -6,-19.1 -4.5,-21.8 -1.7,-15.1 -1,-27 0.3,-13.5 2.2,-21 2.9,-15 4.6,-16.5 7.6,-19.5 7.5,-15 7.6,-12.5 10.5,-14.5 10.5,-12 12.9,-12 14,-10.5 15.7,-9 13.8,-6 14.5,-4.5z"/>
<path fill="#006cff" d="M167.5,78.9l13.5,-0.7 16.5,0.6 12.5,1.7 12.7,3 13,4.5 15.9,7.5 12.3,7.5 10.1,8.2 6.4,8.3 15,22.5 24,37.5 12.1,21 2.5,7.5 6,25.1 2.8,16.9 1,10.5 0.4,15 -1.2,18.9 -3,19.9 -4.5,18.4 -6,17.7 -6,14.1 -9,16.6 -10.5,15.6 -10.5,12.6 -13.3,13.2 -11.1,9 -13.6,9 -14.7,7.5 -16.1,6 -18,4.5 -12.2,1.6 -16.5,0.3 -16.5,-1.6 -14.7,-3.3 -13.4,-4.5 -13.3,-6 -15.2,-9 -12.1,-9 -12.3,-11.2 -12,-13.5 -10.5,-14.4 -9,-15.2 -7.5,-15.8 -6,-15.9 -4.5,-15.2 -4,-20.3 -2,-17.7 -0.8,-27.3 0.4,-13.5 1.9,-17.7 2.9,-15.3 4.6,-16.2 7.5,-19.5 7.5,-15 10.5,-16.9 10.5,-13.7 12,-12.8 12.5,-10.9 12.7,-9 13.5,-7.5 14,-6 14.9,-4.5z"/>
<path fill="#0093ff" d="M170.5,79l15,-0.4 12,0.5 16.5,2.6 12.5,3.3 12.1,4.5 12.4,6 12.5,7.5 10.5,8.4 8.3,11.1 23.5,36 17.1,27 8.4,15 2.7,8.4 6,25.6 2.9,18.5 1,13.5 -0.5,19.5 -1.9,18.1 -3,16.1 -4.5,16.4 -6,16.9 -7.5,16.3 -9,15.5 -10.5,14.7 -12,13.4 -11.3,10.6 -13.8,10.5 -12.3,7.5 -16.1,7.5 -18.2,6 -14.4,3 -14.4,1.4 -16.5,-0.4 -16.5,-2.4 -11.9,-3.1 -16,-6 -12,-6 -14.3,-9 -13.1,-10.5 -12.2,-12 -12,-14.7 -9,-13.4 -7.5,-13.5 -7.5,-16.8 -6,-17.2 -4.5,-17.6 -3,-18.5 -1.2,-15.8 -0.7,-24 0.4,-13.5 1.8,-16.5 4.2,-20.4 6,-18.7 6,-14.3 9,-17.1 9,-13.8 10.5,-13.4 12.9,-13.3 12.4,-10.5 13.4,-9 14.4,-7.5 15.5,-6 18.4,-4.5z"/>
<path fill="#00bbff" d="M178,79l13.5,0.1 14.4,1.4 14.3,3 9.8,3 11.2,4.5 11.8,6 12.1,7.5 9.2,7.5 10.9,15 20.4,31.5 17.2,27 8.3,15 2.9,9.5 6,25.9 2.6,17.1 1.1,16.5 -0.6,18 -1.7,15 -2.9,16.5 -6,21.2 -6,16.1 -7.5,15.6 -9,15.1 -10.5,14.2 -12,13 -12.5,11.3 -14.5,10.5 -13.3,7.5 -14,6 -19,6 -16.7,3 -12,0.7 -17.4,-0.7 -16.8,-3 -14.7,-4.5 -14.2,-6 -13.5,-7.5 -14.7,-10.5 -12.2,-10.9 -12,-13.3 -10.5,-14.2 -9,-14.9 -7.5,-15.6 -7.5,-20 -4.5,-16.2 -3.1,-16.4 -1.7,-16.5 -1.1,-30 0.5,-16.5 2.4,-19.1 3,-14 6,-18.9 7.5,-17.5 7.5,-14 9,-13.9 10.5,-13.4 11.7,-12.2 12.1,-10.5 10.6,-7.5 13.1,-7.5 13.5,-6 13.9,-4.5 14.3,-3z"/>
<path fill="#00e3ff" d="M164.5,80.4l13.5,-1 19.5,0.5 14.7,2.1 12,3 12.7,4.5 12.7,6 12.7,7.5 11.7,8.9 11,15.1 28.2,43.5 11.2,18 6.5,12 3.1,10.6 6,26.3 3,23.1 0.3,16.5 -1.4,19.5 -3.4,21 -3,12.1 -6,18.2 -7.5,17.7 -9,16.1 -10.5,15.2 -12,13.6 -12.9,12.1 -13.9,10.5 -12.5,7.5 -12.9,6 -22.3,7.5 -14,3 -13.5,1.4 -16.5,-0.4 -17.4,-2.5 -16,-4.5 -11.5,-4.5 -11.9,-6 -14.3,-9 -12.9,-10.4 -10.5,-10.4 -10.5,-12.5 -10.5,-15.2 -7.5,-13.2 -7.5,-16.7 -6,-16.8 -4.5,-16.8 -3,-17.4 -1.4,-16.1 -1,-30 0.3,-12 2.1,-19 3,-14.6 4.5,-15 6,-15.4 7.5,-15.1 9,-14.9 9,-12.4 12,-13.7 13,-11.9 12.1,-9 15.6,-9 13.7,-6 14.4,-4.5z"/>
<path fill="#00fff4" d="M167.5,80.5l13.5,-0.6 16.5,0.4 12.6,1.7 12.8,3 13,4.5 12.9,6 14.7,8.7 10.5,8.1 6.8,8.7 10,15 27,42 10.8,18 3.9,10.7 6,24.8 3,17.2 1.4,14.8 0.1,15.1 -1.5,19 -3,18.6 -4.5,17.3 -6,17.4 -6,13.8 -9,16.2 -10.5,15.2 -7.5,8.8 -9,9.1 -6,5.5 -9.4,7.5 -8.6,6 -10.4,6 -10.1,4.5 -6.5,1.7 -1.5,-0.2 -2.6,-16.5 -3,-33 -0.4,-1.5 -1.5,-0.7 0,9.9 1.1,13.3 0.2,9 -1,3 -4.5,6 -4.1,16.5 -8.3,3 -17.9,3 -16.5,0.2 -15.6,-1.7 -13.1,-3 -13.5,-4.5 -13.4,-6 -15.3,-9 -10.1,-7.5 -12,-10.9 -10.5,-11.6 -9,-11.8 -9,-14.3 -7.5,-14.7 -6,-14.6 -6,-18.5 -4.5,-21 -1.6,-14.6 -0.6,-22.5 -1,-10.5 -0.2,-10.5 0.7,-13.5 2.7,-18.2 4.5,-17.7 6,-16.4 7.5,-16 9,-15.5 12,-16.6 10.5,-11.7 13.5,-12.4 12.2,-9 15.8,-9 13.9,-6 15.1,-4.5zM179.2,230.5l-12.2,13.5 -4.4,9 -10.6,15 -2.5,2.5 -4.7,3.5 -0.9,1.5 -0.1,3 2.7,7.7 6,13.3 1.5,2 1.5,0.7 3,-1.3 4.5,-3.7 16.5,-17.4 3,-2 1.5,-0.1 3.5,2.3 19,21.7 0.7,-0.7 -2.2,-4.5 -16.1,-25.5 -1.9,-3.8 -1.1,-6.7 -0.3,-28.5 -1.6,-2.5 -1.5,-0.4z"/>
<path fill="#00ffcc" d="M173.5,80.5l18,-0.1 13.5,1.3 10.2,1.8 15.7,4.5 14.1,6 13.7,7.5 10.8,7.5 4.5,3.7 3,3.4 9.7,13.9 28.1,43.5 9.3,15 5.6,10.5 4.3,14.7 6,27.3 2.2,18 0.5,16.5 -1.4,21 -4.3,24.9 -7.5,24.4 -4.5,11.5 -4.5,9.5 -12,20.2 -6,8.3 -6,7.1 -18,17.2 -10.2,7.4 -6.3,3.3 -1.4,-0.3 -2.8,-22.5 -1.4,-4.5 -3.2,-4.5 -11.9,-13.5 -1.4,-3 0.7,-4.5 6.6,-16.5 -0.1,-4.5 -4.6,-9.3 -18.2,-32.7 -6.9,-21 -2.5,-6 -18.9,-30 -1.5,-6 -0.3,-19.5 -0.9,-3 -1.1,-1.5 -5.2,-3.7 -4.5,-0.9 -4.5,1.1 -6.6,3.5 -5.4,4.4 -4.5,5.4 -1.3,3.7 -0.4,6 -0.8,3 -2.9,4.5 -8.1,10.1 -3,1.7 -16.8,3.2 -5.5,1.5 -2.8,1.5 -1,1.5 0.1,3 5.6,18 2.4,5.1 6.7,9.9 2.1,4.5 0.7,21 0.8,3 1.2,1.5 2.9,1.5 9.6,3 3,0.1 1.5,-1 3,-6 6.8,-21.6 1.9,-4.5 12.3,-14.6 3,-2.2 1.5,-0.1 1.5,0.7 3,3.1 8,10.1 2.6,4.5 7.4,25.7 5.7,14.8 6.4,31.5 -0.8,3 -2,3 -1,3 1.2,21 -0.5,4.5 -1.2,1.5 -1.8,1.1 -21.5,7.9 -8.4,4.5 -3.4,3 -14.1,16.5 -2.1,0 -16.8,-3 -14.1,-4.5 -13.5,-6 -15.4,-9 -11.6,-9 -11.1,-10.4 -10.5,-12 -9,-12.3 -9,-14.9 -6,-12.3 -6,-15 -6,-19.2 -3,-14 -1.5,-10.3 -0.9,-16.1 0.2,-15 -1.9,-12 -0.3,-12 0.9,-13.5 2,-13.7 3,-13.3 6,-17.9 6,-13.8 9,-16.7 9,-13.7 10.5,-13.1 10.5,-10.9 11.3,-9.9 10.5,-7.5 13,-7.5 13.2,-6 13.7,-4.5 14,-3z"/>
<path fill="#00ffa4" d="M163,82l15,-1 19.5,0.4 15.4,2.1 12,3 12.5,4.5 15.3,7.5 12.3,7.6 7.6,5.9 4.4,4.3 9.6,13.7 28,43.5 9.4,15 5.5,10.5 7.5,28.8 3,15.2 1.5,11.2 0.9,19.8 -0.7,15 -1.2,10.5 -2,13.3 -4.5,18.3 -7.5,21.6 -6,13.3 -9,15.6 -10.5,14.7 -10.5,11 -9,7.7 -3.1,1.5 -1.6,-7.5 -2.3,-3 -6.2,-6 -4.8,-10.6 -10.9,-13.4 -0.4,-1.5 0.2,-3 3.1,-9 -0.5,-4.5 -23.8,-45 -12.7,-41.1 -4.5,-9.5 -8.6,-13.9 -1.9,-3.9 -0.7,-3.6 -0.3,-9 -0.8,-3 -2.6,-3 -7.6,-5.5 -4.5,-1.9 -4.5,-0.5 -4.5,0.5 -3,1 -15.1,7.9 -2.9,2.5 -1.3,3.5 0.3,12 -0.4,3 -2.7,4.5 -6.4,8 -3,1.8 -3,0.6 -28.5,3.5 -7.7,2.6 -4.3,3 -1.9,4.5 -8.6,34.5 -0.4,4.5 0.8,1.5 1.1,0.6 3,0.1 21,-1.5 1.5,0.3 1.5,1.1 1.1,2.4 0.7,6 1.3,30 1.4,4.5 10.2,22.5 1.1,4.5 0.4,4.5 -1.6,25.5 -0.9,6 -1.6,3 -9.1,10.9 -1.5,0.5 -3.3,-0.9 -6,-3 -11.7,-7.5 -9.1,-7.5 -10.4,-10.2 -10.5,-12.4 -7.5,-10.5 -7.5,-12.5 -6,-12.1 -9,-23.5 -3,-9.9 -3,-13.5 -1.7,-12.4 0.2,-11.4 9.9,-15.6 1.1,-3 -0.4,-1.5 -1.6,-1.5 -10.5,-4.5 -1.1,-3 -1.2,-12 0.8,-17.9 1.5,-10.6 3,-14 4.5,-14.1 6,-14.8 6,-12 7.5,-12.8 9,-12.9 9,-10.9 10.3,-10.5 10.6,-9 10.5,-7.5 10.3,-6 9.2,-4.5 11.4,-4.5 10.2,-3zM184,311.4l1.5,0.9 2.5,3.7 18.5,37.5 7.1,25.5 0.4,3 -0.8,3 -6.2,6 -1.2,3 0.5,13.5 -0.4,3 -0.9,1.7 -3,1.8 -18,6.1 -28.5,3.4 -6,0.1 -1.9,-1.1 -0.8,-3 1.9,-27 1.5,-4.5 10.9,-21 0.5,-3 -1.3,-9 0.4,-3 18.8,-37.4 1.5,-2 1.5,-1.1z"/>
<path fill="#00ff7d" d="M169,82l28.7,0 12.1,1.5 18.2,4.5 15,6 19,10.5 13.5,10.5 4.8,6 43.5,67.5 4.3,7.5 2.9,9.1 7.5,31.5 2.1,13.4 1.2,13.5 0.3,9 -0.6,14.5 -1.5,14.2 -3,17.1 -3,11.4 -6,17.9 -4.5,11.2 -4.5,9 -7.5,12.8 -9,12.8 -9,9.7 -4.8,2.9 -11.7,-9.1 -3.7,-4.4 -5.3,-17.1 -3.3,-6.9 -1.7,-9 -24.2,-46.5 -17.5,-55.5 -11.2,-28.5 -4.3,-4.5 -10.5,-7.5 -3.8,-2 -4.5,-1.2 -4.5,-0.5 -6,0.6 -5.1,1.6 -15.9,7.9 -3.4,2.6 -0.7,1.5 -0.3,3 1.1,13.5 -0.1,3 -2.6,4.9 -3.1,4.1 -2.9,2.6 -4.5,1.4 -12,1.7 -4.5,0.3 -9,-0.3 -6,1.2 -21.3,6.6 -4.9,3 -1.8,3 -3.5,12.9 -9.7,30.6 -0.6,4.5 0.8,3 8,17.7 1.5,2.3 1.5,1.1 3,0.2 15,-4.4 7.5,-0.7 3,0.8 1.8,4 1.3,13.5 4.2,10.5 1.2,4.5 1.2,24 -1.1,12 -2.6,4 -7.5,7.7 -2.5,1.8 -2,0.1 -4.6,-3.1 -10.5,-9 -5.9,-6 -9,-10.7 -7.5,-10.4 -7.5,-12.3 -3,-5.6 -4.5,-11.3 -4.4,-20.2 -3.6,-10.5 -0.1,-3 1.5,-3 12.6,-16.3 21.3,-30.2 -0.3,-1.5 -1.8,-1.5 -4,-1.5 -21.2,-4.1 -18,-6 -1.5,-6.4 -0.2,-12 1.2,-13.5 2,-12.3 3,-12 4.5,-13.1 6,-14 6,-11.6 6,-10.1 7.5,-11 9,-11.2 9.2,-9.7 10,-9 9.9,-7.5 9.6,-6 11.5,-6 10.8,-4.5 9.3,-3 13.5,-3zM182.5,321.4l1.5,-0.2 3,3.1 15.6,29.2 1.7,4.5 4.5,16.5 0.6,6 -1.4,2.3 -8.4,6.7 -2.4,3 -0.8,9 -1.9,2.8 -4.5,2 -7.5,2.2 -16.5,1.6 -2.7,-1.1 -0.8,-1.5 0.6,-13.5 1.2,-4.5 5.2,-10.5 0.5,-3 -1.1,-6 -4.2,-12 -0.3,-4.5 1.9,-4.5 11.7,-21.5 3,-4.8z"/>
<path fill="#00ff55" d="M163,83.4l10.5,-0.6 21,0 10.3,0.7 9.3,1.5 12.1,3 12.1,4.5 12.4,6 12.8,7.5 12,9.5 4.6,5.5 36.2,55.5 11.4,19.5 4.8,16.2 4.5,19 3.7,23.3 1,15 -0.2,10.5 -1.5,18.1 -1.5,10.3 -3,14.5 -3,10.2 -6,17.2 -4.5,10.7 -7.5,13.6 -7.5,11.5 -7.5,9.5 -4.5,3.7 -1.5,-0.1 -10.5,-8.2 -4,-4.5 -5.6,-19.5 -2.4,-6 -24.8,-48 -13.9,-40.5 -5.5,-19.5 -8.4,-24 -4.4,-4.7 -18,-12.7 -4.5,-1.6 -7.5,-1.4 -10.5,0.9 -4.5,1.4 -19.5,9.1 -1.5,1.7 -1.1,4.3 1.6,16.5 -0.3,4.5 -1.5,3 -3.2,4 -1.5,1.1 -3,1.2 -12,1.6 -10.5,-1.2 -4.5,0.4 -27,7 -4.5,0.7 -31.5,-4.6 -18,-5.7 -1.5,-1.1 -1.1,-10.9 1.1,-16.3 3,-16.4 3,-10.4 6,-15.9 7.5,-15.5 9,-15.3 9,-12.7 10.5,-12.2 10.1,-9.8 10.9,-9 11.4,-7.5 11.2,-6 14.5,-6 10,-3zM182.5,328.9l1.5,-0.2 3,3.1 11.6,21.7 2.9,7.5 3.6,15 -0.2,1.5 -1.4,2.3 -12.7,9.7 -5.3,5.8 -1.5,0.7 -3,0.3 -2,-0.8 -0.8,-1.5 0.2,-6 -0.8,-4.5 -8.6,-22.5 -1,-4.5 0.4,-3 1.9,-4.5 9.2,-16.6z"/>
<path fill="#00ff2d" d="M160,84.9l9.5,0.1 0.2,9 0.8,4.5 4.1,12 6.4,27.1 1.5,3.8 1.5,0.9 1.5,-1.6 1.5,-3.5 8.3,-29.7 1.9,-10.5 0.3,-12 10.4,0 9.2,1.5 11.4,3 14.9,6 19.1,10.5 11.8,9 5.7,6 34.5,53 12,20.3 4.5,13.9 4.5,18.4 4.5,25 1.1,14.9 0.1,9 -1.1,18 -1.6,12 -4.5,21.2 -7.5,22.2 -4.5,10.9 -4.5,8.4 -7.5,12.1 -6,8.1 -4.5,4.2 -3,-1.7 -7.7,-5.9 -4,-4.5 -4.1,-13.5 -8.8,-19.5 -18.6,-36 -5.6,-13.5 -8.4,-24 -7.4,-27 -6.3,-18 -2.1,-3 -3.5,-3.2 -21,-15.2 -4.5,-1.7 -9,-1.9 -4.5,-0.2 -7.5,0.8 -6,1.3 -12,5.7 -9,2.8 -1.5,1.5 -1.1,2.6 -1.2,7.5 2,15 0,4.5 -1.2,2.9 -1.5,2 -1.5,1.3 -3,1.2 -9,0.8 -10.5,-1.8 -4.5,0.2 -9,1.6 -19.5,5.3 -4.5,0.5 -31.5,-4.7 -18,-5.8 -1.3,-2 -0.5,-12 1.6,-15 3.2,-14.8 3,-9.3 6,-15 7.5,-15 9,-14.8 9,-12.4 7.5,-8.8 10.5,-10.4 10.8,-9 11.1,-7.5 14,-7.5 10.8,-4.5 16,-4.5zM182.5,336.3l1.5,-0.2 3,3.1 7.7,14.3 3.1,7.5 2.8,12 -0.9,3 -1.4,1.5 -9.8,7.1 -3,1.3 -2.1,-0.9 -2.4,-3.4 -7.6,-17.6 -1.7,-6 0.3,-3 1.6,-4.5 5.9,-10.7z"/>
<path fill="#00ff06" d="M142,89.3l6,-0.9 1.5,0.1 0.9,1 8.5,21 3,13.5 0.5,6 -1,3 -7.1,12 0.3,1.5 2.3,1.5 19.6,4.1 2.7,1.9 3.3,3.9 1.5,0.9 1.5,0 3,-1.9 3,-3.5 9.4,-14.4 8.9,-15 4.4,-13.5 4.5,-21 5.8,0 9.5,3 7.3,3 17.7,9 8.9,6 10.6,9 18,26.7 28.5,45.3 6,18.6 4.5,18.7 3,15.7 1.5,12 0.7,13 -0.7,19.4 -1.5,13.3 -3,16.8 -3,10.7 -6,17.4 -4.5,11.2 -3,5.9 -7.5,11.8 -3,3.5 -1.5,0.9 -6,1.4 -3,-0.7 -4.5,-3.1 -2.9,-3.5 -2.7,-7.5 -6.4,-12.1 -7.5,-18.3 -10.7,-20.6 -12,-27 -6.4,-18 -8,-30 -4.9,-13.5 -4.2,-4.5 -10.8,-8.6 -16.5,-11.5 -15,-3.6 -7.5,0.1 -12,1.7 -12,5 -10.5,2.7 -1.5,1.3 -1.1,2.4 -2.3,12 0.2,4.5 1.9,10.5 0.3,4.5 -0.5,1.9 -1.5,2 -3,1.4 -4.5,0.2 -12,-2.3 -4.5,-0.1 -12,2.1 -18,4.7 -4.5,0.2 -30,-4.4 -19.5,-6.2 -1.1,-7 0.7,-12 1.9,-11.7 3,-11.4 4.5,-12.6 6,-13.4 9,-16.5 9,-13.6 7.5,-9.6 9,-9.9 10.1,-9.3 9.5,-7.5 9.4,-6 11.3,-6 10.6,-4.5zM182.5,343.7l1.5,-0.2 1.5,1.1 3,4.6 5,10.3 2.5,9 -0.1,3 -1.4,2.4 -6,4.4 -3,1.1 -1.5,-0.7 -3,-4.5 -4.5,-10.2 -1,-4.5 0.6,-4.5 1.6,-4.5 3.3,-5.4z"/>
<path fill="#22ff00" d="M133,93.9l1.5,1.2 4.5,6.3 3.1,6.1 1,4.5 -0.4,3 -3.7,12.8 -2.3,12.7 -0.1,4.5 1.2,3 2.7,2.8 3,1.3 24,2.8 4.5,1.3 2.6,2.3 6.4,10.3 3,2.6 1.5,0 3,-1.6 4.5,-3.5 3,-3.1 28.5,-43.2 4.9,-6.5 4.1,-3.3 14.7,-8.7 2,0 9.6,4.5 10.9,7.5 7.8,6.8 3,3.5 6,8.7 30.2,47 6.7,12 6.6,20.9 4.5,19.2 3,17.1 1.5,16.3 0,14.2 -1.5,18.3 -3,18.8 -3,11.2 -10.5,28.9 -4.5,8.2 -3,2.9 -15,2.7 -3,-1.6 -1.5,-2 -8.9,-16.1 -9.1,-22.8 -7.1,-14.7 -16.9,-38.3 -3,-9 -8.5,-32.2 -2.2,-6 -2.3,-3 -3.4,-3 -21.1,-16.6 -9,-6.1 -4.5,-1.5 -12,-2.6 -6,-0.4 -16.5,2 -10.5,3.9 -10.5,2.1 -3.4,1.2 -1.5,1.5 -1.1,2.5 -2.8,15.5 -0.2,4.5 2.2,13.5 -0.7,2.7 -1.5,0.9 -3,0.1 -10.5,-2.2 -4.5,-0.4 -15,2.5 -15,3.9 -4.5,0.4 -31.5,-4.6 -18,-5.8 -1.5,-1.7 0,-10.8 1.4,-10.5 1.6,-7.7 3,-9.9 4.5,-11.8 6,-12.8 7.5,-13.5 7.5,-11.6 7.5,-9.9 7.5,-8.7 10.4,-10.1 9.1,-7.5 8.7,-6 11,-6 10.3,-4.5zM182.5,351.5l1.5,-0.3 1.5,1.1 3.4,5.7 2.3,6 0.4,3 -0.9,3 -3.7,2.7 -1.5,0.1 -1.5,-0.9 -1.4,-1.9 -3.2,-7.5 -0.1,-3 0.6,-3 1.1,-3z"/>
<path fill="#4aff00" d="M110.5,104.5l3,-0.8 1.5,0.2 12,8.9 2.2,2.2 0.7,1.5 0.2,3 -2.9,21 1.7,4.5 3.7,4.5 4.6,4.5 3.3,1.7 22.5,2.9 4.3,1.4 2.7,3 11,18.5 3,2.8 3,-0.8 13.5,-10.6 25.5,-37.6 12,-14.3 4.5,-3.6 16.5,-8.7 1.5,-0.2 4.5,1.9 4.3,3.1 12.2,10.7 0.4,1.3 2.6,2.8 0.5,1.7 2.5,2.7 0.5,1.8 2.5,2.9 0.5,1.6 2.5,3 0.5,1.5 7,10.1 0.7,1.9 2.4,3 0.5,1.5 2.4,3 0.5,1.5 7,10.2 0.6,1.8 2.4,2.9 0.4,1.6 4.1,6 7.5,22.8 4.5,18.7 3,15.5 1.5,11.6 0.7,18.4 -0.7,15.7 -3,22.6 -1.5,7.1 -3,9.4 -1.5,3.4 -4.3,4.8 -3.2,14.6 -1.5,3.9 -1.5,2.1 -4.5,1.7 -12,1.9 -3,-0.8 -2.3,-2.4 -6.5,-12 -7,-18 -2.7,-9 -20.9,-49.5 -4.3,-12 -8.7,-28.5 -1.4,-3 -4.5,-4.5 -24.2,-19.1 -7.5,-5.7 -4.5,-2.6 -21,-5.7 -22.5,3.5 -7.5,2.3 -16.5,3.5 -1.5,1 -1.2,1.8 -1.5,6 -2.9,18 0.9,12 -1.3,1.9 -3,0.2 -7.5,-1.3 -3,0 -16.5,2.8 -12,3.1 -4.5,0.5 -31.5,-4.5 -19.5,-6.3 -0.7,-5.4 0.4,-7.5 3.3,-16.3 4.5,-12.8 4.5,-10.5 12,-22.1 12,-17.3 12,-13.6 10.1,-9.4 7.6,-6z"/>
<path fill="#71ff00" d="M101.5,111.7l1.5,-0.2 1.5,0.9 13.3,10.1 0.9,1.5 0.4,3 -1.1,9 0.4,3 2.8,4.5 11.5,12 3.3,2.8 3,1.3 18,2.4 4.5,1.3 2.9,2.7 5.3,9 2.2,4.5 0.5,3 -1.2,1.5 -3.7,1.3 -30.8,6.2 -3.7,1.5 -1.5,2.3 -1.3,5.2 -3.6,21 -0.6,9 -0.5,1 -1.5,0.9 -9,0.3 -16.5,2.9 -10.5,2.5 -4.5,0.3 -30,-4.3 -19.5,-6.2 -1.1,-1.9 -0.1,-4.5 1.2,-9.7 1.5,-6.7 7.5,-20.2 10.5,-20.2 10.5,-16.5 13.5,-16.7 6,-6 10.5,-9zM262,118.9l4.5,-0.6 4.5,2 9,5.1 4.5,3.8 0.1,0.8 2.9,3 0.1,1.5 7.4,10.3 0.5,1.7 2.5,2.8 0.4,1.7 2.6,2.8 0.3,1.7 2.7,3 0.3,1.5 4.2,5.8 0.6,1.7 2.4,2.8 0.4,1.7 2.6,2.9 0.2,1.6 4.3,6 1.2,4.5 1.4,10.5 6.2,19.5 4.2,28.5 2.5,22.5 -1.8,24 0.9,19.5 -1.1,6.2 -1.5,2.1 -3.9,3.7 -6.7,4.5 -2.5,3 -1.3,12 -2.1,6.2 -1.5,1.6 -4.5,1.5 -4.5,0.5 -3,-1.3 -3,-4 -2.1,-4.5 -3.4,-9 -1,-4.5 0.5,-2.3 4.1,-3.7 0.4,-1.5 -2.1,-3 -7.4,-6 -2.1,-3 -4.9,-16.5 -11,-27 -14.8,-42 -2.7,-3.2 -9,-4.9 -30,-23.5 -9.5,-5.9 -0.4,-1.5 6.9,-8.8 16.6,-27.2 10.1,-9 13.6,-15z"/>
<path fill="#99ff00" d="M95.5,128.3l6,-0.5 4.5,1.9 1.5,1.8 2.4,6 2.3,3 21,21 4.3,1.9 16.4,2.6 3.4,1.5 1.4,1.5 2.5,4.5 0.8,3 -0.5,1.5 -3,1.6 -27,6.9 -2.6,2 -1.6,4.5 -5.4,30 -1.4,3 -2.5,1.3 -30,5.7 -3,0.1 -31.5,-4.4 -18,-5.8 -1.5,-0.9 0,-6.3 1.5,-8.6 4.5,-13.6 7.5,-16.4 12,-20.4 10.5,-14.7 10.5,-10.6 4.9,-1.4zM260.5,131.3l3,-0.8 3.7,1 26.3,16 3,3.4 7.9,12.1 3.7,6 1.1,3 0,34.5 7.6,57 -0.4,3 -3.4,4.5 0.1,1.5 2.6,4.5 0.7,3 2.1,25.5 -0.2,3 -1.3,3 -4,5 -3,2 -3,-0.5 -4.5,-2.6 -9,-6.5 -2.9,-3.4 -7,-27 -13.5,-36 -5.5,-16.5 -2.6,-4.5 -3.8,-4.5 -2.2,-1.7 -10.5,-3.3 -4.5,-2.8 -24.3,-19.2 -2.6,-3 -0.4,-1.5 1.2,-4.5 14.6,-28.5 3.7,-3 17.1,-10.5zM302.5,334l3,-1.3 1.5,-0.1 1.7,1.4 0.6,3 -0.1,3 -0.7,2.1 -1.5,1.5 -1.5,0.3 -1.5,-0.4 -1.8,-2 -1.3,-4.5 0.3,-1.5z"/>
<path fill="#c1ff00" d="M260.5,138.8l3,0.6 10.5,9.6 15,9.8 3.5,4.2 5.4,9 0.7,4.5 0.2,16.5 4.5,19.5 1.9,24 2.5,19.5 -0.7,3.6 -3,2.1 -9,2.3 -3,0.1 -1.6,-0.6 -2.3,-3 -3.6,-7.7 -11.8,-29.8 -8.3,-10.5 -2.4,-2.3 -3,-1.5 -12,-2.6 -4.5,-2 -18.2,-14.1 -3.1,-3 -0.8,-1.5 -0.1,-3 1.5,-4.5 10.4,-22.5 3.1,-3 4.2,-2.7 16.5,-9.1zM107.5,150.9l3,-0.9 3,0.7 6,4.2 12,10.7 3,1.4 14.3,3.5 1.4,1.5 -1,1.5 -3.6,1.5 -17.1,5 -3,2.2 -1.4,1.8 -1,3 -0.8,7.5 -3.4,19.5 -0.9,3.6 -1.5,2.7 -3,1.9 -7.5,2.1 -19.5,3.6 -31.5,-4.3 -19.5,-6.3 0,-6.9 3,-11.2 6,-14.3 4.5,-7.6 1.5,-0.8 12,-2.6 6,-1.9 3,-1.6 9,-7.3zM296.5,289.6l1.5,0.3 2.8,2.1 1.8,3 0.4,6 -0.7,1.5 -1.3,0.7 -3,-1 -1.8,-2.7 -1,-6 0.5,-3z"/>
<path fill="#e8ff00" d="M256,144.6l4.5,-1 2.4,1.4 14.1,17 8.2,8.5 1.9,3 2.5,12 7.3,27 0.6,21 -1,7.3 -1.5,-0.4 -1.5,-2 -6.6,-12.4 -3,-4.5 -8.4,-7.9 -7.7,-8.6 -4.3,-2.2 -16.5,-3.3 -4.5,-1.7 -10.6,-7.8 -4.4,-4.5 -0.6,-3 0.9,-4.5 5.7,-16.4 1.5,-3.1 2.7,-3 4,-3zM116.5,173.3l4.5,-0.4 1.6,0.6 -0.1,1.5 -6.7,9 -1.6,3 0.2,3 1.8,6 -0.3,6 -2,9 -1.9,2.5 -1.5,1 -15,5.9 -4.5,1.3 -4.5,0.4 -31.5,-4 -8.2,-2.6 -9.8,-4.1 0,-4.4 1.5,-5.4 3,-7.7 3,-5.3z"/>
<path fill="#ffee00" d="M254.5,149.2l4.5,-1.1 3,1.9 11.2,14.5 5,7.5 1.3,4.5 0.3,12 6.3,13.5 0.7,3 -0.8,1.7 -4.8,-1.7 -8.3,-6 -3,-1.5 -22.9,-4.7 -4.5,-1.3 -4.5,-2.8 -3.3,-3.2 -1.1,-3 1.4,-12 0.9,-4.5 1.9,-4.5 6.2,-6.1zM97,188.3l4.5,0 1.5,1.7 4.5,11.1 0.1,2.4 -1.6,1.6 -4.5,0.9 -9,-0.1 -10.5,0.7 -27.3,-3.1 -5.7,-1.5 0.1,-1.5 3.2,-1.5z"/>
<path fill="#ffc600" d="M253,153.8l4.5,-1.2 3,1.9 6.3,8.5 4.1,7.5 2,6 0.1,4.5 -1,6 -1,2 -1.5,1 -4.5,-0.1 -19.5,-4 -3,-1 -2.4,-2.4 -0.7,-3 -0.3,-7.5 0.9,-6 1.7,-3 2.3,-2.4 4.5,-3.9z"/>
<path fill="#ff9f00" d="M253,158.3l3,-0.8 1.5,0.7 1.7,1.8 2.3,4.5 4.5,12 -0.2,4.5 -1.7,1.5 -3.6,0.1 -13.5,-2.2 -1.8,-0.9 -1.2,-1.5 -0.9,-6 0.6,-4.5 3.3,-4.3z"/>
<path fill="#ff7700" d="M251.5,164.3l3,-0.7 2.2,2.4 2.1,6 -0.4,3 -0.9,0.7 -3,0.7 -4.5,-0.5 -1.5,-0.8 -1,-1.6 -0.1,-4.5 1.1,-1.9z"/>
</g>
<ellipse cx="183.5" cy="269.7" rx="164.0" ry="195.7" fill="none" stroke="#000" stroke-width="1.8"/>
<polyline points="152.7,73.4 183.5,39.6 214.4,73.4" fill="none" stroke="#000" stroke-width="1.7"/>
<path d="M18.7,236.2 C11,238 6.2,262 6.2,284 C6.2,306 11,330 18.7,332.2 Z" fill="#fff" stroke="#000" stroke-width="1.5"/>
<path d="M348.4,236.2 C356,238 361.2,262 361.2,284 C361.2,306 356,330 348.4,332.2 Z" fill="#fff" stroke="#000" stroke-width="1.5"/>
<rect x="72.1" y="163.7" width="21.4" height="21" fill="#000"/><rect x="273.5" y="163.7" width="21.4" height="21" fill="#000"/><rect x="19.4" y="336.1" width="21.4" height="21" fill="#000"/><rect x="326.2" y="336.1" width="21.4" height="21" fill="#000"/>
<circle cx="139.5" cy="109.5" r="4.5"/><circle cx="183.5" cy="107.7" r="4.5"/><circle cx="227.5" cy="109.5" r="4.5"/><circle cx="104.0" cy="134.8" r="4.5"/><circle cx="142.3" cy="149.4" r="4.5"/><circle cx="183.5" cy="148.0" r="4.5"/><circle cx="224.7" cy="149.4" r="4.5"/><circle cx="263.0" cy="134.8" r="4.5"/><circle cx="126.3" cy="183.6" r="4.5"/><circle cx="156.7" cy="187.0" r="4.5"/><circle cx="183.5" cy="188.4" r="4.5"/><circle cx="210.3" cy="187.0" r="4.5"/><circle cx="240.7" cy="183.6" r="4.5"/><circle cx="54.7" cy="214.5" r="4.5"/><circle cx="88.7" cy="222.3" r="4.5"/><circle cx="120.0" cy="225.0" r="4.5"/><circle cx="152.5" cy="227.8" r="4.5"/><circle cx="214.5" cy="227.8" r="4.5"/><circle cx="247.0" cy="225.0" r="4.5"/><circle cx="278.3" cy="222.3" r="4.5"/><circle cx="312.3" cy="214.5" r="4.5"/><circle cx="80.5" cy="270.0" r="4.5"/><circle cx="114.5" cy="270.0" r="4.5"/><circle cx="149.0" cy="270.0" r="4.5"/><circle cx="183.5" cy="270.0" r="4.5"/><circle cx="218.0" cy="270.0" r="4.5"/><circle cx="252.5" cy="270.0" r="4.5"/><circle cx="286.5" cy="270.0" r="4.5"/><circle cx="320.4" cy="270.0" r="4.5"/><circle cx="54.7" cy="325.5" r="4.5"/><circle cx="88.7" cy="317.7" r="4.5"/><circle cx="120.0" cy="315.0" r="4.5"/><circle cx="152.5" cy="312.2" r="4.5"/><circle cx="183.5" cy="311.0" r="4.5"/><circle cx="214.5" cy="312.2" r="4.5"/><circle cx="247.0" cy="315.0" r="4.5"/><circle cx="278.3" cy="317.7" r="4.5"/><circle cx="312.3" cy="325.5" r="4.5"/><circle cx="69.4" cy="368.4" r="4.5"/><circle cx="98.5" cy="363.6" r="4.5"/><circle cx="126.3" cy="356.4" r="4.5"/><circle cx="156.7" cy="353.0" r="4.5"/><circle cx="183.5" cy="351.6" r="4.5"/><circle cx="210.3" cy="353.0" r="4.5"/><circle cx="240.7" cy="356.4" r="4.5"/><circle cx="268.5" cy="363.6" r="4.5"/><circle cx="297.6" cy="368.4" r="4.5"/><circle cx="104.0" cy="405.2" r="4.5"/><circle cx="142.3" cy="390.6" r="4.5"/><circle cx="183.5" cy="392.0" r="4.5"/><circle cx="224.7" cy="390.6" r="4.5"/><circle cx="263.0" cy="405.2" r="4.5"/><circle cx="139.5" cy="430.5" r="4.5"/><circle cx="183.5" cy="432.3" r="4.5"/><circle cx="227.5" cy="430.5" r="4.5"/>
<circle cx="35.0" cy="205.7" r="4.9" fill="#b23ab0" fill-opacity="1"/><circle cx="46.5" cy="270.0" r="4.9" fill="#b23ab0" fill-opacity="1"/><circle cx="183.5" cy="228.8" r="4.9" fill="#b23ab0" fill-opacity="1"/>
<rect x="376.3" y="414.06" width="25.0" height="10.04" fill="#8200ff"/><rect x="376.3" y="404.42" width="25.0" height="10.04" fill="#5b00ff"/><rect x="376.3" y="394.78" width="25.0" height="10.04" fill="#3300ff"/><rect x="376.3" y="385.14" width="25.0" height="10.04" fill="#0b00ff"/><rect x="376.3" y="375.50" width="25.0" height="10.04" fill="#001cff"/><rect x="376.3" y="365.86" width="25.0" height="10.04" fill="#0044ff"/><rect x="376.3" y="356.22" width="25.0" height="10.04" fill="#006cff"/><rect x="376.3" y="346.58" width="25.0" height="10.04" fill="#0093ff"/><rect x="376.3" y="336.94" width="25.0" height="10.04" fill="#00bbff"/><rect x="376.3" y="327.30" width="25.0" height="10.04" fill="#00e3ff"/><rect x="376.3" y="317.66" width="25.0" height="10.04" fill="#00fff4"/><rect x="376.3" y="308.02" width="25.0" height="10.04" fill="#00ffcc"/><rect x="376.3" y="298.38" width="25.0" height="10.04" fill="#00ffa4"/><rect x="376.3" y="288.74" width="25.0" height="10.04" fill="#00ff7d"/><rect x="376.3" y="279.10" width="25.0" height="10.04" fill="#00ff55"/><rect x="376.3" y="269.46" width="25.0" height="10.04" fill="#00ff2d"/><rect x="376.3" y="259.82" width="25.0" height="10.04" fill="#00ff06"/><rect x="376.3" y="250.18" width="25.0" height="10.04" fill="#22ff00"/><rect x="376.3" y="240.54" width="25.0" height="10.04" fill="#4aff00"/><rect x="376.3" y="230.90" width="25.0" height="10.04" fill="#71ff00"/><rect x="376.3" y="221.26" width="25.0" height="10.04" fill="#99ff00"/><rect x="376.3" y="211.62" width="25.0" height="10.04" fill="#c1ff00"/><rect x="376.3" y="201.98" width="25.0" height="10.04" fill="#e8ff00"/><rect x="376.3" y="192.34" width="25.0" height="10.04" fill="#ffee00"/><rect x="376.3" y="182.70" width="25.0" height="10.04" fill="#ffc600"/><rect x="376.3" y="173.06" width="25.0" height="10.04" fill="#ff9f00"/><rect x="376.3" y="163.42" width="25.0" height="10.04" fill="#ff7700"/><rect x="376.3" y="153.78" width="25.0" height="10.04" fill="#ff4f00"/><rect x="376.3" y="144.14" width="25.0" height="10.04" fill="#ff2800"/><rect x="376.3" y="134.50" width="25.0" height="10.04" fill="#ff0000"/>
<path d="M401.3,134.5V423.7" stroke="#222" stroke-opacity="0.7" stroke-width="1" fill="none"/>
<text class="c" transform="translate(403.2,160.6) scale(1.04,1)">1.8</text><text class="c" transform="translate(403.2,196.7) scale(1.04,1)">1.6</text><text class="c" transform="translate(403.2,232.8) scale(1.04,1)">1.4</text><text class="c" transform="translate(403.2,268.9) scale(1.04,1)">1.2</text><text class="c" transform="translate(403.2,305.0) scale(1.04,1)">1</text><text class="c" transform="translate(403.2,341.1) scale(1.04,1)">0.8</text><text class="c" transform="translate(403.2,377.1) scale(1.04,1)">0.6</text><text class="c" transform="translate(403.2,413.2) scale(1.04,1)">0.4</text>
<path d="M386.8,152.5H401.3M386.8,188.6H401.3M386.8,224.7H401.3M386.8,260.8H401.3M386.8,296.9H401.3M386.8,333.0H401.3M386.8,369.0H401.3M386.8,405.1H401.3" stroke="#000" stroke-width="1.1" fill="none"/>
<text class="l" transform="translate(11.5,10.6) scale(1.05,1)">C</text>
<text class="t" transform="translate(260.2,49.3) scale(1,1)">70</text><text class="t" transform="translate(297.6,49.3) scale(1.06,1)">Hz</text><text class="t" transform="translate(346.3,49.3) scale(1.06,1)">clean</text>
</g>
<g transform="translate(505,528)">
<g clip-path="url(#hc)">
<rect x="10" y="64" width="348" height="412" fill="#8200ff"/>
<path fill="#5b00ff" d="M167.5,77.2l7.5,-0.7 21,0.1 6,1.2 6,0.4 1.8,0.8 5.7,0.7 1.3,0.8 9.2,2.1 1.3,0.9 3.2,0.6 1.1,0.9 6.4,2 18,9 6,4.2 1.5,0.5 4.5,3.8 1.5,0.6 4.1,3.9 7.3,9 0.5,1.5 2.6,3 0.5,1.7 2.5,2.8 0.5,1.8 2.4,2.7 0.6,1.8 7.1,10.2 0.4,1.6 2.5,2.9 0.5,1.8 2.4,2.7 0.6,1.8 7.1,10.2 0.3,1.5 2.6,3 0.5,1.8 2.4,2.7 0.6,1.8 4.1,5.7 0.4,1.5 2.5,3 0.3,1.5 4.2,6 4.5,9 2.9,9 1.9,10.5 2.6,9 2.1,13.4 0.7,1.6 0.8,10 0.8,3.5 0.2,24 -1.6,18 -0.9,2.5 -0.5,6.5 -1.1,3 -0.4,4.5 -1,2.4 -0.7,5.1 -0.8,1.2 -0.8,4.8 -0.7,0.8 -0.6,3.7 -0.9,1.5 -2.1,7.5 -0.9,1.4 -0.7,3.1 -0.8,0.9 -3.6,9.6 -9.1,18 -9.4,15 -10.2,13.5 -12.7,13.7 -12,10.9 -15,10.7 -13.5,7.5 -13.5,5.9 -15,4.7 -16.5,3 -16.5,0.6 -18,-0.7 -2.1,-0.8 -6.9,-0.7 -1.5,-0.8 -4.5,-0.6 -15,-4.6 -0.9,-0.8 -6.6,-2.2 -4.5,-2.6 -1.5,-0.3 -13.5,-7.5 -15,-10.6 -12,-10.6 -14.4,-15.7 -8.9,-12 -7.6,-12 -8.7,-16.5 -7.4,-18 -4.9,-15 -0.6,-3.7 -0.6,-0.8 -0.7,-4.5 -1.2,-3 -0.5,-4.6 -0.7,-1.4 -3.2,-22.5 -0.5,-24 0.6,-19.5 3.1,-21 3.1,-13.5 4.3,-15 5.9,-16.5 6.2,-13.5 10.5,-18 13.4,-18 7.2,-7.5 13.1,-12.8 7.5,-6 9,-6.2 16.5,-9.1 5,-1.9 1,-0.9 6.5,-2.1 1,-0.9 8.2,-2.1 0.8,-0.7 4.9,-0.8 1.1,-0.7 5.9,-0.8 1.6,-0.8z"/>
<path fill="#3300ff" d="M170.5,77.3l10.5,-0.5 13.5,0.3 19.5,2.8 12,3.3 15,5.6 12,6.1 12,7.4 6,4.5 3.6,3.7 7.9,10.5 11.8,18 0.7,1.7 26.2,40.3 10.5,18 2.9,7.5 6,25.5 2.9,16.5 1.5,15 0.1,18 -1.6,18 -3,18 -4.7,18 -5.8,16.5 -7.5,16.5 -9.3,16.5 -9.2,13.3 -10.5,12.8 -11.2,11.4 -12.8,10.8 -13.5,9.2 -13.5,7.1 -16.5,6.5 -16.5,4.3 -12,1.8 -15,0.5 -15,-0.8 -16.5,-3.1 -18,-5.7 -13.5,-6.3 -15,-8.9 -12,-9 -12,-11 -11,-11.9 -10.2,-13.5 -9.3,-15 -9,-18 -6,-15 -6,-19.5 -4.5,-22.5 -1.6,-15 -0.5,-21 0.6,-16.5 3.2,-22.5 4.6,-19.5 4.6,-15 7,-18 7.6,-15 10.5,-16.5 12,-15 11,-11.2 12,-10.4 10.5,-7.5 16.5,-9.1 15,-6.1 15,-4.2z"/>
<path fill="#0b00ff" d="M175,77.4l15,-0.1 15,1.4 13.5,2.8 10.5,3.1 12,4.7 12,6 12,7.4 6,4.6 3.2,3.2 4.8,6 12.1,18 31.6,49.5 9.3,16.5 3.7,12 5.9,27 1.7,10.5 1.6,19.5 -0.7,18 -2.4,21 -3.1,15 -5.7,19.5 -6.5,16.2 -7.5,15 -9,14.9 -10.5,14.2 -12,13.5 -12.6,11.7 -14.2,10.5 -12.9,7.5 -17.3,7.6 -15,4.6 -18,3.1 -9,0.5 -16.5,-0.4 -12,-1.6 -13.5,-3.1 -16.5,-5.8 -15,-7.5 -12,-7.6 -12,-9.1 -15,-14.4 -10.7,-12.8 -10.4,-15 -9.2,-16.5 -7.4,-16.5 -5.8,-16.5 -4.8,-18 -2.9,-16.5 -1.8,-18 -0.3,-18 0.8,-15 2.9,-21 4.6,-19.4 5.9,-19.6 7.3,-18 8.9,-16.5 9,-13.5 10.8,-13.5 12.1,-12.3 15,-12.2 13.5,-8.6 12,-6 16.5,-6.3 19.5,-4.4z"/>
<path fill="#001cff" d="M163,78.9l15,-1.3 13.5,0.2 12,1.1 15.7,3.1 14.1,4.5 13.7,6 15.6,9 9.9,7.6 5.1,5.9 10.3,15 34.6,54 9.2,16.5 2.5,7.5 5.8,25.4 2.9,16.6 0.9,9 0.7,16.5 -1.4,21 -3.1,19.5 -4.5,18 -6,17.2 -6,13.4 -9,16.5 -10.5,15.6 -12,14.6 -11,11.2 -12.6,10.5 -13.3,9 -14.3,7.5 -15.5,6 -17.3,4.3 -13.5,1.8 -16.5,0.3 -16.5,-1.7 -14.4,-3.2 -13.4,-4.5 -13.2,-6 -15.2,-9 -13.9,-10.5 -12.4,-11.6 -12,-13.7 -10.5,-14.9 -9,-15.7 -7.5,-16 -6,-16.2 -4.5,-15.4 -3.2,-15 -2.7,-22.5 -0.6,-19.5 0.8,-16.5 2.7,-19.1 4.5,-19 6,-20.5 6,-15.9 6,-12.2 9,-15 9,-12.3 12,-13.5 13.1,-12 12.4,-9.3 15.2,-8.7 13.6,-6 14.7,-4.7z"/>
<path fill="#0044ff" d="M166,78.8l15,-0.8 16.5,0.5 13.8,2 12.2,3 12.9,4.5 15.7,7.5 12.3,7.5 6.6,5 3,2.9 6.6,8.6 14.9,22.5 26.7,42 9.3,16.5 2.5,8.2 6,26.7 2.9,17.6 0.9,10.5 0.3,15 -1.3,18 -2.8,18 -4.5,18.5 -6,17.3 -6,13.4 -10.5,19 -10.5,15.1 -12,14.4 -11.9,11.8 -15,12 -12,7.5 -15.3,7.5 -12.3,4.5 -19,4.5 -13.5,1.5 -15.8,0 -13.5,-1.5 -13.9,-3 -17.4,-6 -15.3,-7.5 -14.1,-9 -13.1,-10.5 -10.8,-10.5 -10.6,-12.5 -10.5,-14.9 -9,-15.9 -7.5,-16.1 -6,-16.4 -4.5,-15.6 -3.8,-19.6 -2,-19.5 -0.3,-22.5 1.6,-17.8 2.1,-12.2 5.4,-21.8 6,-20.2 6,-15.5 7.5,-14.4 9,-14.1 9,-11.7 12,-12.9 10.5,-9.4 14.4,-10.5 13.4,-7.5 13.8,-6 14.6,-4.5z"/>
<path fill="#006cff" d="M169,78.9l16.5,-0.6 13.6,0.7 14.9,2.4 13.3,3.6 11.9,4.5 12.3,6 12.4,7.5 10.1,8.2 6.4,8.3 12,18 30.5,48 8.3,15 2.8,9.6 6,27.5 2.5,15.4 1.2,13.5 -0.1,16.5 -2.1,21.2 -3,16.1 -4.5,16.5 -6,16.2 -6,12.7 -9,16 -10.5,15.2 -12,14.4 -11.1,11.2 -12.6,10.5 -13.5,9 -14.6,7.5 -16.1,6 -17.6,4.1 -15,1.6 -16.5,-0.2 -17.5,-2.5 -16.3,-4.5 -11.4,-4.5 -14.6,-7.5 -13.6,-9 -11.1,-9 -11.5,-11.2 -12,-14.4 -9,-13.1 -9,-16.1 -7.5,-16.3 -6,-16.6 -4.5,-15.8 -3,-15 -2.4,-22.5 -0.4,-19.5 1.3,-17.6 3,-16.9 4.5,-17.4 6,-21.3 6,-16.3 7.5,-14.7 9,-14.3 10.4,-13.5 10.6,-11.2 12.9,-11.3 12.5,-9 16.7,-9 15.2,-6 16.2,-4.2z"/>
<path fill="#0093ff" d="M172,79l16.5,-0.3 12,0.9 14.6,2.4 11.1,3 12.2,4.5 12.5,6 12.6,7.5 10.5,8.4 11.3,15.6 30.9,48 9.2,15 5.5,10.5 3.1,11.2 6,28.3 2.1,13 1.3,16.5 -0.3,16.5 -1.7,16.5 -4.4,22.7 -4.5,15.1 -6,15.2 -6,11.9 -10.5,17.8 -9,12.5 -12,14.3 -12.1,12 -13.1,10.5 -14.2,9 -12.1,6 -16.5,6 -16,3.7 -16.5,1.7 -16.5,-0.4 -14.2,-2 -12.2,-3 -16.4,-6 -14.8,-7.5 -13.7,-9 -12.9,-10.5 -11.8,-11.9 -12,-15 -9,-13.7 -9,-16.8 -6,-13.4 -6,-16.8 -4.5,-16.1 -3.1,-16.3 -2.1,-22.5 -0.1,-21 2.3,-20.4 1.5,-7.4 3.5,-11.2 7,-27.3 4.5,-13.8 4.5,-10.4 7.5,-13.6 9,-13.5 10.5,-12.9 12,-12 12.8,-10.5 11.2,-7.5 14.3,-7.5 15.5,-6 18.2,-4.4z"/>
<path fill="#00bbff" d="M163,80.3l13.5,-1.1 15,0 13.6,1.3 14.6,3 14,4.5 16.5,7.5 13.3,7.9 10.5,8.3 5,6.3 10.1,15 30.7,48 8.8,15 2.4,5.8 1.5,5.5 4.5,20.3 4.5,24.1 1.2,11.8 0.4,16.5 -1.6,19.3 -3,18 -4.5,17.3 -4.5,12.8 -6,13.3 -10.5,18.6 -9,13.2 -13.5,16.6 -9.9,10.4 -12,10.5 -12.5,9 -16.6,9 -15.3,6 -17.7,4.5 -12,1.6 -16.5,0.4 -16.5,-1.8 -14.5,-3.2 -13.2,-4.5 -15.9,-7.5 -12.3,-7.5 -11.9,-9 -13,-12 -10.7,-12.2 -10.5,-14.6 -7.5,-12.6 -9,-18.2 -7.5,-19.6 -4.5,-14.7 -3,-13.4 -3,-23.1 -0.6,-14.1 0.2,-13.5 1.4,-13.5 2,-11.7 5.2,-15.3 6.8,-28.6 4.4,-13.4 6.1,-12.9 10.3,-17.1 7.7,-10.5 12.1,-13.5 13.4,-12 12.1,-9 13.3,-7.5 13.4,-6 14,-4.5z"/>
<path fill="#00e3ff" d="M166,80.4l13.5,-0.8 18,0.5 13.9,1.9 12.3,3 12.9,4.5 12.9,6 12.8,7.5 11.7,8.9 6.9,9.1 9,13.5 29.7,46.5 8.8,15 4.1,13 4.5,21.3 4.2,22.7 1.2,13.5 0.3,13.5 -1.2,16.5 -3,19.1 -4.5,17.8 -4.5,12.8 -6,13.3 -10.5,18.2 -9,13.2 -15,18.2 -11.3,11.9 -14.2,12 -11.2,7.5 -14.3,7.5 -15.6,6 -18.8,4.5 -13.6,1.5 -13.4,0 -14.1,-1.5 -14,-3 -17.3,-6 -15.1,-7.5 -11.9,-7.5 -13.4,-10.5 -11.8,-11.5 -10.5,-12.4 -10.5,-15.3 -9,-16.3 -7.5,-16.1 -7.5,-20.8 -4.5,-16.7 -3,-17.5 -1.3,-14.4 -0.2,-24.4 1.5,-13.7 1.5,-8.4 1.5,-5.4 3,-6.2 1.5,-1.2 3,0.4 1.5,-0.3 0.9,-0.8 0.3,-3 -2.2,-10.5 2.5,-15.3 2.9,-11.7 3.1,-8.5 4.5,-9.5 6,-10.6 6,-9.2 9,-11.8 11.2,-11.9 10,-9 14,-10.5 16.5,-9 14.7,-6 17.3,-4.5z"/>
<path fill="#00fff4" d="M170.5,80.4l16.5,-0.3 10.5,0.4 13.5,1.9 16.2,4.1 12,4.5 12.3,6 12.5,7.5 10,7.8 6.8,8.7 9,13.5 29.7,46.5 8.7,15 4.3,15 7.5,38 2.1,20.5 -0.1,16.5 -1.9,18 -3.1,16.7 -3,11.4 -4.5,12.9 -6,13.2 -10.5,17.5 -7.5,10.8 -3,3.4 -1.8,1.1 -6.7,-18 -1,-1.5 -2.5,-2 -18,-9 -3,-0.1 -5.1,2.1 -3,3 -1.1,3 0,3 6.9,24 2.6,4.5 13.2,10.5 0.3,1.5 -2.1,3 -8.6,9 -10.8,9 -11.1,7.5 -11.1,6 -10.6,4.5 -14,4.5 -15.1,3 -11.4,1 -16.5,-0.4 -15.2,-2.1 -11.9,-3 -16,-6 -11.9,-6 -14.1,-9 -13,-10.5 -10.9,-10.7 -12,-14.7 -9,-13.6 -10.5,-19.5 -6,-13.4 -7.5,-21 -4.5,-17.1 -3,-19 -1,-13.5 -0.3,-13.5 0.5,-10.5 2.1,-15 1.7,-7.1 1.5,-3.5 1.5,-1.8 6,1 4.5,-0.8 1.5,-1.6 1.3,-4.2 0.1,-4.5 -1.4,-7.5 -0.2,-7.5 -2.5,-10.5 1.2,-7.9 3,-9.5 4.5,-10.1 7.5,-13.3 7.5,-11.1 9,-11.1 11.9,-12 10.6,-9 12.8,-9 14.2,-7.5 15.1,-6 18.5,-4.5z"/>
<path fill="#00ffcc" d="M161.5,81.9l13.5,-1.2 18,0.1 13,1.2 14.5,3 13.9,4.5 13.4,6 15.6,9 10.6,8.2 6,7.5 7.7,11.3 31.6,49.5 8.7,15 4.5,17.5 7.5,39.7 1.5,13.6 0.3,13.2 -0.9,13.5 -2.4,17.9 -3,13.8 -3,10.3 -4.5,11.9 -6,12.1 -4.5,6.9 -3,3.6 -1.5,0.8 -12,-5.7 -3,-2.4 -9,-9.9 -10,-6.8 -3.5,-1.6 -1.5,0.1 -1.5,0.9 -4.5,4.7 -3,2.1 -15,3.9 -4.8,1.9 -2.8,3 -9.2,19.5 -1.7,4.5 -0.2,4.5 1.1,3 2.7,4.5 13.4,18 10.9,16.5 -2.5,3 -8.4,6 -8.2,4.5 -9.8,4.5 -18.3,6 -17.7,3 -13.5,0.6 -13.5,-0.9 -15,-2.7 -14.9,-4.5 -13.8,-6 -13.3,-7.5 -14.5,-10.5 -13.1,-12 -9.9,-11.2 -10.5,-14.7 -7.5,-12.7 -10.5,-20.9 -9,-23.7 -3,-9.5 -3,-12.5 -3,-21.6 -0.7,-15.7 0.2,-13.5 1.4,-12 2.1,-9.9 1.5,-3.4 1.5,-1.1 6,1.2 6,-0.6 3,-1.6 1.5,-2.6 2.1,-10.5 -0.3,-7.5 -2.5,-15 -1.1,-3 -3,-4.5 0.2,-4.5 1.6,-6.3 3,-7.9 6,-11.6 6,-9.9 9,-12.4 10.7,-11.9 11.4,-10.5 13.6,-10.5 16.1,-9 14.2,-6 9.8,-3zM182.3,148l-10.2,19.5 -1.3,4.5 1.2,2 7.5,0.3 1.5,-0.8 1.5,-2.2 3,-10.5 0.7,-6.8 -1.1,-6 -1.1,-1zM197.5,200.5l2.8,4.5 8.5,10.5 0.8,1.5 0.4,3 -2.4,7.5 -1.2,7.5 -1.1,3 -16.8,23.1 -3,3.5 -1.5,0.8 -3,-0.6 -16.5,-15.9 -6,-3.9 -3,-1.1 -1.5,0.2 -1.5,1.2 -1.5,2.8 -4.8,13.9 -1.2,1.6 -1.5,0.9 -4.5,0.5 -19.5,0.1 -3,0.6 -4.5,2.2 -3,0.8 -25.5,1.4 -3.6,0.9 -1.4,1.5 -1.3,3 -2.7,9.7 -1.1,6.8 0.2,6 3.4,19.5 2.3,4.5 5.7,5.7 4.5,3.4 4.5,2.5 15,5.5 13.5,3 9,0.1 3,0.7 1.6,1.6 3.4,6 2.5,2.5 4.2,2 7.8,2.3 2.9,2.2 22.6,26.1 3,2.7 3,1.1 4.5,-1.4 24,-14.2 3,-2.5 2.7,-4.3 5.4,-12 1.7,-13.5 0,-4.5 -0.8,-6 -4,-15 -0.7,-4.5 1.8,-24 1,-6 1.9,-2.7 1.5,-0.8 18,-5.7 2.4,-1.3 0.4,-1.5 -1.4,-3 -4.5,-6 -19.4,-20.8 -2,-3.2 -1,-4.5 -0.1,-4.5 3.2,-10.5 -0.5,-3 -1.1,-2.2 -2.1,-2.3 -3.9,-2.9 -8.9,-4.6 -7.6,-2.7z"/>
<path fill="#00ffa4" d="M166,81.9l12,-0.6 18,0.3 12,1.3 10.5,2.1 14.5,4.5 10.8,4.5 11.5,6 9.7,6 9,7.2 6.5,7.8 35.8,55.5 9.1,15 2.6,6.1 3,11.7 5,30.2 2.5,10.3 1.5,9 1,10.7 0.2,13.5 -1.2,15.1 -1.5,10.6 -4.5,20.4 -3,9.3 -4.5,10.9 -4.5,8.4 -4.5,5.4 -10.5,-3.1 -4.5,-2.7 -3,-3.4 -15,-20.6 -3,-3.2 -3,-1.8 -1.5,0.2 -1.5,1.1 -7.5,10.5 -3,2.7 -3,1.2 -9,2 -3,-0.2 -1.3,-1.3 -0.6,-3 0,-4.5 0.6,-16.5 0.9,-3 1.9,-1.9 7,-2.6 2.2,-1.5 8.8,-9.3 7.5,-3.9 3,-2.4 4.5,-7.3 5.9,-13.1 4.2,-4.5 0.6,-1.5 -0.7,-1.5 -1.8,-1.5 -3.7,-1.5 -7.5,-0.1 -21,-1.8 -7.5,-1.6 -6,-4.6 -19.5,-20.2 -1.7,-3.2 -0.7,-4.5 0.3,-3 1.9,-6 0.2,-3 -1.2,-4.5 -1.8,-3.7 -3,-3.5 -6,-5 -17.8,-10.3 -3.2,-3 -0.6,-3 2,-16.5 -2.6,-18 -0.1,-9 -0.7,-1.5 -1.9,-1.5 -3.6,-1.5 -3,-0.3 -4.5,1.9 -2.9,2.9 -0.8,7.5 -1.1,3 -21.6,36 -3.9,31.5 -1.2,3.3 -5.1,7.2 -4.2,16.5 -2,4.5 -2.2,1.4 -1.5,0.2 -12,0.2 -3,0.7 -3,2.4 -6,6.9 -3,1.2 -18,0.8 -12,-0.2 -3,1.5 -5.1,5.9 -18.5,51 -6.2,13.5 -0.3,3 0.4,1.5 9.9,16.5 1,3 -0.3,1.5 -1.9,1.7 -1.5,0.1 -3,-4.7 -4.5,-10.6 -2.1,-7.5 -0.9,-1 -4.5,-10.2 -4.5,-15.3 -3.3,-20 -1.2,-14.1 -0.2,-12.9 0.2,-7.5 1.5,-11.7 1.5,-6.5 1.5,-3.3 1.5,-0.4 7.5,0.7 7.5,-1 3,-1.2 1.5,-1.7 0.7,-1.9 3,-12 0.6,-4.5 -0.6,-7.5 -2.6,-15 -1.2,-3 -4.9,-6 -0.6,-1.5 0.9,-6 1.7,-5 9,-17.5 6,-9.3 6,-8.1 7.5,-8.6 8.5,-8.5 16.2,-13.5 6.5,-4.5 8.2,-4.5 16.3,-7.5 14.7,-4.5zM166,200.2l3,-0.8 9,0.3 3,0.4 3,1.3 3,2.8 11,12.8 2.8,4.5 -0.2,3 -2.7,10.5 -9.4,13 -3,3.3 -1.5,0.8 -1.5,-0.1 -1.5,-0.8 -3,-3.1 -13.3,-16.1 -2.5,-4.5 -0.3,-4.5 1.8,-16.5 0.8,-4.2zM74.5,372.8l24,0.6 22.5,4.2 15,0.1 9,1.6 3,2 10,11.2 11,9.3 3,1.4 9,1.8 4.5,1.5 28.5,14.8 13.5,5.2 3,3.4 1.8,3.1 3.8,10.5 -0.4,1.5 -8.6,4.5 -12.8,4.5 -13.5,3 -16.8,1.5 -15,-0.8 -13.9,-2.2 -15.7,-4.5 -11.1,-4.5 -16.6,-9 -14.7,-10.5 -15,-14 -12,-14.6 -10.5,-16.7 -3,-6.6 0,-1.5 10.5,0.7z"/>
<path fill="#00ff7d" d="M160,83.4l15,-1.3 16.5,0 16.3,1.4 8,1.5 11.2,3 12.2,4.5 12.4,6 10.4,6 13.5,10.5 4.5,5.6 43.5,67.9 3,6 3,11.2 1.5,7.1 2,14.7 -0.4,6 -5.3,18 -1,4.5 0.1,3 1.6,0.2 1.5,-1.1 6,-6 1.5,-0.7 1.5,5.1 1.5,9.9 0.6,15.1 -0.6,11.5 -1.5,12.5 -4.5,21.7 -6,17.1 -4.5,8.8 -3,3.7 -1.5,-0.1 -9,-3.1 -6,-4.6 -17.9,-25.5 -1.7,-3 -0.8,-3 1.7,-6 12.1,-30 3.4,-3 11.9,-6 1.8,-1.5 0.7,-1.5 -0.7,-1.5 -6.3,-4.5 -13.2,-7.6 -3,-0.3 -7.5,1.6 -4.5,0 -18,-1.6 -9,-2.1 -3,-1.6 -3,-2.6 -13.5,-13.7 -1.6,-2.1 -1.3,-3 -0.3,-3 1.4,-6 0.1,-3 -4.3,-12.3 -3.2,-4.2 -16.3,-13.5 -2.3,-3 -1,-10.5 -4.6,-25.5 1.1,-13.5 -0.5,-3 -1.1,-1.5 -2.1,-1.3 -12,-4.2 -3,0.3 -3,1.5 -7.3,5.2 -1.7,2.1 -0.6,3.9 0.9,7.5 -1.1,4.5 -20.6,33 -1.3,3 -2.7,22.5 -1.3,4.5 -1.8,2.7 -9.5,9.3 -4,10.4 -2.2,1.6 -5.3,0.8 -3,1.5 -3,3.2 -9,12.2 -3,2.1 -4.5,0.6 -10.5,0.3 -15,-1.3 -3,0.6 -3,2.1 -7.6,7.9 -2.9,4.5 -17.7,49.5 -1.8,3.8 -1.5,-1.5 -4.5,-14.8 -3,-19.2 -1,-20.8 0.7,-15 1.8,-9.2 1.5,-3.1 9,-0.4 9,-1.1 4.5,-1.2 1.5,-1.1 1.1,-1.9 5.5,-16.5 -0.1,-3 -1.6,-4.5 0.1,-10.5 -2.2,-12 -2.3,-4.5 -6.5,-7.5 -0.1,-3 0.9,-3 3.7,-8.5 9,-15.7 10.5,-14.1 13.6,-14.2 16.3,-13.5 4.2,-3 7.9,-4.5 15.8,-7.5 13.3,-4.5zM175,215.3l3,-1.1 4.5,0.7 4.5,3.6 4.4,6 0.3,3 -1.3,4.5 -3.4,5 -3,2.2 -1.5,0 -3,-2.3 -6,-7.9 -0.7,-3 0.1,-3 0.7,-4.5zM263.5,320.4l6,0.5 1.5,1.1 -0.3,3 -2.7,5 -3,3.3 -3,1.4 -3,0.1 -1.5,-1 -0.8,-2.8 0.5,-7.5 1.8,-2zM88,389.4l6,-0.5 9,0.6 26.2,6 11.3,5.2 14,11.3 4,2.4 22.5,4 6,2.2 14.7,7.9 4.2,3 1.2,1.5 1.7,4.5 3.6,15 -9.7,3 -9.2,1.5 -12.5,0.6 -12,-0.6 -10.2,-1.5 -12.5,-3 -12.7,-4.5 -9.8,-4.5 -13,-7.5 -14.3,-10.5 -13,-12.3 -6,-6.9 -4.5,-6.3 -0.6,-3z"/>
<path fill="#00ff55" d="M167.5,83.5l12,0 4.5,0.6 3.6,-0.6 11.5,0 12.7,1.5 12.9,3 16.5,6 14.9,7.5 11.6,7.5 9.3,8.1 12.2,17.4 28.7,45 7.1,12.1 4.5,18.2 0.8,10.2 -8.3,26.9 -3,7 -1.5,1.3 -3,-0.3 -13.5,-7.9 -3,-0.9 -3,0.2 -9,2.6 -4.5,0.7 -19.5,-1.9 -9,-2.4 -3,-1.3 -7.5,-6.6 -5,-5.4 -1.6,-3 -0.2,-3 0.6,-4.5 -0.4,-3 -6.4,-16.5 -2.2,-3 -11.5,-10.5 -2.6,-4.5 -6.3,-34.5 2,-19.5 -0.1,-3 -0.7,-1.5 -1.7,-1.5 -3.4,-1.5 -14.5,-5.4 -4.5,-0.9 -3,1 -3,1.9 -11.1,7.9 -2.7,3 -0.5,3 1.9,12 -0.3,4.5 -10.6,18 -11.6,18 -0.8,3 -1.8,14.9 -1.7,4.6 -14.5,13.5 -6.3,6.9 -15,20.8 -3,3.1 -3,1 -7.5,0.3 -19.5,-2.2 -4.5,0.5 -3,2 -13.5,12.6 -1.5,1.5 -1.8,3 -11.7,35.1 -1.5,2.1 -1.5,-5 -1.5,-9 -1.5,-18.9 0,-13 1.5,-11.4 1.5,-2.3 3,-1.4 19.5,-2.9 4.5,-1.6 2.2,-3.2 7.3,-18 -0.1,-3 -3.3,-4.5 -1,-3 1.2,-13.5 -1.7,-10.5 -1.6,-3.2 -8.8,-10.3 -0.5,-1.5 0.3,-2.6 1.5,-3.7 7.5,-14.2 9,-13.3 10.5,-11.9 12,-11.3 15.4,-12 14.1,-7.5 14.3,-6 10.5,-3 7.9,-1.5zM337,265.9l1.5,0.7 1.5,14.9 -1.5,19.5 -1.5,10 -3,13.9 -4.5,14 -4.5,9.2 -1.5,2 -1.5,0.4 -8,-3 -4,-2.7 -3.6,-3.3 -12.5,-18 -1.2,-3 0.1,-3 3.4,-10.5 8.1,-19.5 2.7,-2.5 12,-5.9 6,-3.6 6.5,-4.5zM103,407.3l4.5,0.1 7.5,2.9 21,9.9 10.5,5.9 21.8,3.9 12.7,3 2.1,1.5 1.6,3 4.4,18 -8.1,0.6 -13.5,-0.5 -17.2,-3.1 -10,-3 -7.6,-3 -14.8,-7.5 -13.6,-9 -7.3,-6 -4.1,-4.5 6.2,-9z"/>
<path fill="#00ff2d" d="M154,86.4l5.2,0.1 17.3,17.8 1.1,1.7 0.2,1.5 -1.9,3 -14.4,10.6 -3.1,2.9 -0.8,4.5 2.9,16.5 -0.2,4.5 -9.3,15.9 -12.5,18.6 -1.1,3 -1.4,9.8 -1.4,3.7 -10.6,10.4 -7.4,9.1 -6.7,6 -6.9,12 -4.5,6.6 -2.3,2.4 -3.7,1.3 -4.5,-0.1 -16.4,-2.7 -4,-1.5 -1,-1.5 0.2,-3 6.2,-15 0.7,-3 -1.2,-3 -4.6,-4.5 -1.6,-3 2.3,-18 -1.3,-9 -1.5,-3 -7.2,-9 -1.6,-4.5 -0.3,-4.5 4.3,-9.8 9,-14 9,-10.3 11.2,-10.9 16.4,-13.5 13.8,-7.5 13.8,-6 9.8,-3zM209.5,86.4l11.2,1.6 10.5,3 11.6,4.5 12,6 10.1,6 7.6,6 6,5.7 4.6,6.3 37.4,58.5 3,5.8 1.5,4.4 1.5,6.3 0.8,9 -7.8,25.5 -2,4.9 -1.5,1.7 -1.5,0.5 -1.5,-0.3 -7.5,-4.2 -4.5,-1 -19.5,5.3 -13.5,-1 -18,-4.9 -4.5,-3.2 -3.5,-3.8 -1,-2.6 -1.3,-7.9 -7.4,-19.5 -2.1,-3 -9.3,-9 -2,-4.5 -5.2,-33 3,-25.5 -0.4,-4.5 -1,-1.5 -2.6,-1.5 -11.5,-4.5 -6.1,-3 -1.7,-1.5 -0.5,-1.5 1.4,-3 7.4,-9 6.5,-7.5zM337,276.8l1.5,0.6 0.3,10.1 -1.8,18.7 -1.5,8.7 -4.5,17.6 -3,7.5 -1.5,2.6 -1.5,1.3 -6.8,-2.4 -8.2,-6.2 -6.6,-8.8 -1.4,-3 -0.3,-3 4.4,-15 3.5,-9 1.9,-3.4 1.5,-1.4 9,-5z"/>
<path fill="#00ff06" d="M143.5,89.5l1.6,0 1.4,1.1 14.8,13.9 1.8,3 -0.2,1.5 -1,1.5 -9.2,7.5 -1.2,3 0.3,4.5 3.6,19.5 0.1,3 -0.8,3 -7.3,12 -13.5,19.5 -3.9,11 -6,6.8 -8.3,12.2 -4.6,4.5 -10.4,7.5 -8.2,14.8 -1.5,1 -1.5,0.2 -3,-0.8 -6,-3 -2.3,-1.7 -0.9,-3 2.2,-7.5 0,-3 -2.3,-3 -5.7,-4.8 -1.9,-2.7 -0.1,-3 3.2,-18 0,-6 -1.3,-4.5 -4.5,-6 -1.4,-3 -1.5,-19.5 3,-6 3,-4.5 9,-10.3 9.2,-9.2 17.4,-15 4.4,-3 15.6,-7.5 11.6,-4.5zM232,93.9l3,0 4.9,1.6 19.1,9 9.1,6 10.4,9 9.4,13.5 10.9,18 2.4,3 0.4,1.5 2.4,2.8 0.5,1.7 7,10.2 0.6,1.8 2.6,3 0.2,1.5 2.6,3 0.3,1.5 4.2,6.5 1.6,5.5 0.3,4.5 -4.8,19.5 -2.6,7.5 -2,3.4 -1.5,0.8 -6,-1.6 -3,0.2 -21,6.4 -6,0.6 -7.5,-1.1 -18,-4.8 -3,-1.3 -2.4,-2.6 -11.1,-28.5 -1.9,-3 -6,-6 -1.9,-3 -4.6,-33 0.2,-6 3.8,-30 -0.5,-3 -2.2,-4.5 1.2,-3zM329.5,293.5l3,0.2 3,2 0,11.9 -3,15.3 -3,9.9 -1.5,2.6 -3,0.4 -4.1,-1.8 -7.7,-6 -2,-3 -0.1,-3 4.9,-16.9 2.5,-5.6 3.5,-2.8z"/>
<path fill="#22ff00" d="M130,99.9l7.5,-0.9 3,0.9 5.6,4.6 2.3,3 0.2,1.5 -3.1,6 -0.1,3 4.9,27 -0.1,4.5 -4,7.5 -16.9,24 -13.7,22.5 -3.3,4.5 -9,7.5 -12.3,7.6 -1.5,0.8 -1.5,0 -13.5,-10.9 -1.6,-2 -0.4,-1.5 4,-22.5 0.6,-6 -0.4,-3 -2.9,-6 -0.7,-3 -1,-16.5 0.9,-6.9 3,-3 15.3,-8.1 7.2,-5.5 1.5,-2.3 1.2,-4.2 1.6,-12 4.2,-4.5 4.7,-3 4.8,-1.7 3,-0.7zM251.5,102.7l5.4,1.8 8,4.5 13.6,11.4 3,3.4 6,8.8 0.7,1.9 2.3,2.8 0.5,1.7 4.1,6 0.4,1.5 2.6,3 0.2,1.5 2.8,3 0.1,1.5 4.3,5.9 0.3,1.6 2.7,3 0.1,1.5 2.9,3 0,1.5 1.3,1.5 2.2,18 0.3,7.5 -0.7,7.5 -1.2,6 -1.5,3 -1.9,1.4 -27,8.7 -4.5,0.9 -6,-0.8 -19.5,-5.6 -3,-1.6 -3,-4 -10.1,-23 -5.6,-7.5 -1.2,-4.5 -2.8,-27 2.8,-10.5 4.8,-27 1.5,-3 1.8,-1.5 11.9,-7.5z"/>
<path fill="#4aff00" d="M112,104.5l22.5,4.1 3,1 1.5,1.4 1.4,4 4.4,27 0.6,4.5 -0.2,3 -3.2,5.9 -17.7,24.1 -13.8,22.2 -5.2,4.8 -7.8,6 -8,4.3 -3,0.3 -3,-1 -4.5,-2.6 -2.6,-2.5 -0.6,-1.5 0.2,-4.5 5.5,-25.5 0.7,-7.5 1.3,-3.4 13.5,-14.6 7.5,-9.4 2.3,-4.1 1.2,-6 0.4,-27 0.9,-1.5zM257.5,109l1.5,-0.9 1.5,0 4.5,2.1 4.6,3.3 9.9,9 5,5.9 0.4,1.6 2.7,3 0.2,1.5 4.2,6 1,3 -4,20.4 -0.8,17.1 -5.2,11.1 -6.6,21.9 -0.9,1.4 -1.5,0.9 -4.5,-0.3 -10.5,-3.1 -3,-1.1 -3,-2 -4.5,-5.8 -4.5,-7.1 -6.7,-12.9 -1.3,-4.5 -2.3,-22.5 0.2,-3 1.4,-3 5.2,-7.5 1.4,-3 2.7,-13.5 0.6,-7.5 1,-3 2.3,-2.1z"/>
<path fill="#71ff00" d="M115,109.8l1.5,-0.6 3,0.1 12,2.5 3,1 2.3,2.2 1.3,4.5 2.2,16.5 0.7,7.5 -0.4,4.5 -2.5,4.5 -16.2,21 -10.7,18 -3.7,5.2 -10.5,9 -5.4,3.8 -5.1,2.3 -3,0.2 -1.5,-0.5 -2.3,-2 -0.4,-3 2.7,-10.5 3,-7.4 5.6,-9.1 4.6,-9 13.8,-17.9 2.7,-6.1 1.9,-9 -0.1,-24 0.8,-3zM262,116.4l3,-1.1 3,0.7 9,8 2.4,3 2.5,4.5 2.6,5.9 0.5,3.1 -0.5,4.5 -3.1,13.5 -4.6,15 -6.4,27 -1.1,3 -1.3,1.4 -1.5,0.4 -4.5,-0.7 -4.5,-2.3 -4,-4.8 -8.4,-12 -2.2,-4.5 -0.7,-3 -2.2,-18 0.2,-3 0.8,-2.1 10,-12.9 3.4,-6 1,-4.5 -0.2,-7.5 0.7,-3 1.6,-1.8z"/>
<path fill="#99ff00" d="M121,114.1l3,-0.3 6.3,1.2 2.7,1 1.8,2 1.3,4.5 1.2,12 0,6 -0.8,4.5 -2.4,4.5 -15.9,19.5 -12.2,20.1 -4.5,4.2 -4.5,2.8 -1.5,0.4 -0.5,-0.5 0.3,-1.5 6,-10.5 6.6,-15 5.6,-8.5 2.1,-5 3.5,-15 -0.3,-22.5 0.7,-2.8zM268,133.6l3,3.5 3,5.6 1.2,3.8 0,3 -1.4,6 -5.5,15 -4.6,18 -1.7,2.8 -1.5,0 -1.5,-1.1 -3,-4.2 -7,-12.5 -2,-6 -0.8,-6 0.7,-3 2.1,-3 10,-11.7 6.5,-4.8z"/>
<path fill="#c1ff00" d="M125.5,119.1l1.5,-0.6 3,0.2 1.5,0.7 1.3,1.6 0.9,3 0.5,6 -0.5,6 -2.2,7 -3,4.5 -3,1.7 -0.7,-2.7 -0.7,-22.5 0.2,-3zM257.5,157.8l1.5,-0.4 1.5,0.4 1,2.2 -2,7.5 -2,3.4 -1.5,-0.2 -1.5,-1.5 -1.5,-2.9 -0.3,-1.8 0.9,-3z"/>
</g>
<ellipse cx="183.5" cy="269.7" rx="164.0" ry="195.7" fill="none" stroke="#000" stroke-width="1.8"/>
<polyline points="152.7,73.4 183.5,39.6 214.4,73.4" fill="none" stroke="#000" stroke-width="1.7"/>
<path d="M18.7,236.2 C11,238 6.2,262 6.2,284 C6.2,306 11,330 18.7,332.2 Z" fill="#fff" stroke="#000" stroke-width="1.5"/>
<path d="M348.4,236.2 C356,238 361.2,262 361.2,284 C361.2,306 356,330 348.4,332.2 Z" fill="#fff" stroke="#000" stroke-width="1.5"/>
<rect x="72.1" y="163.7" width="21.4" height="21" fill="#000"/><rect x="273.5" y="163.7" width="21.4" height="21" fill="#000"/><rect x="19.4" y="336.1" width="21.4" height="21" fill="#000"/><rect x="326.2" y="336.1" width="21.4" height="21" fill="#000"/>
<circle cx="139.5" cy="109.5" r="4.5"/><circle cx="183.5" cy="107.7" r="4.5"/><circle cx="227.5" cy="109.5" r="4.5"/><circle cx="104.0" cy="134.8" r="4.5"/><circle cx="142.3" cy="149.4" r="4.5"/><circle cx="183.5" cy="148.0" r="4.5"/><circle cx="224.7" cy="149.4" r="4.5"/><circle cx="263.0" cy="134.8" r="4.5"/><circle cx="126.3" cy="183.6" r="4.5"/><circle cx="156.7" cy="187.0" r="4.5"/><circle cx="183.5" cy="188.4" r="4.5"/><circle cx="210.3" cy="187.0" r="4.5"/><circle cx="240.7" cy="183.6" r="4.5"/><circle cx="54.7" cy="214.5" r="4.5"/><circle cx="88.7" cy="222.3" r="4.5"/><circle cx="120.0" cy="225.0" r="4.5"/><circle cx="152.5" cy="227.8" r="4.5"/><circle cx="214.5" cy="227.8" r="4.5"/><circle cx="247.0" cy="225.0" r="4.5"/><circle cx="278.3" cy="222.3" r="4.5"/><circle cx="312.3" cy="214.5" r="4.5"/><circle cx="80.5" cy="270.0" r="4.5"/><circle cx="114.5" cy="270.0" r="4.5"/><circle cx="149.0" cy="270.0" r="4.5"/><circle cx="183.5" cy="270.0" r="4.5"/><circle cx="218.0" cy="270.0" r="4.5"/><circle cx="252.5" cy="270.0" r="4.5"/><circle cx="286.5" cy="270.0" r="4.5"/><circle cx="320.4" cy="270.0" r="4.5"/><circle cx="54.7" cy="325.5" r="4.5"/><circle cx="88.7" cy="317.7" r="4.5"/><circle cx="120.0" cy="315.0" r="4.5"/><circle cx="152.5" cy="312.2" r="4.5"/><circle cx="183.5" cy="311.0" r="4.5"/><circle cx="214.5" cy="312.2" r="4.5"/><circle cx="247.0" cy="315.0" r="4.5"/><circle cx="278.3" cy="317.7" r="4.5"/><circle cx="312.3" cy="325.5" r="4.5"/><circle cx="69.4" cy="368.4" r="4.5"/><circle cx="98.5" cy="363.6" r="4.5"/><circle cx="126.3" cy="356.4" r="4.5"/><circle cx="156.7" cy="353.0" r="4.5"/><circle cx="183.5" cy="351.6" r="4.5"/><circle cx="210.3" cy="353.0" r="4.5"/><circle cx="240.7" cy="356.4" r="4.5"/><circle cx="268.5" cy="363.6" r="4.5"/><circle cx="297.6" cy="368.4" r="4.5"/><circle cx="104.0" cy="405.2" r="4.5"/><circle cx="142.3" cy="390.6" r="4.5"/><circle cx="183.5" cy="392.0" r="4.5"/><circle cx="224.7" cy="390.6" r="4.5"/><circle cx="263.0" cy="405.2" r="4.5"/><circle cx="139.5" cy="430.5" r="4.5"/><circle cx="183.5" cy="432.3" r="4.5"/><circle cx="227.5" cy="430.5" r="4.5"/>
<circle cx="35.0" cy="205.7" r="4.9" fill="#b23ab0" fill-opacity="1"/><circle cx="46.5" cy="270.0" r="4.9" fill="#b23ab0" fill-opacity="1"/><circle cx="183.5" cy="228.8" r="4.9" fill="#b23ab0" fill-opacity="1"/>
<rect x="376.3" y="414.06" width="25.0" height="10.04" fill="#8200ff"/><rect x="376.3" y="404.42" width="25.0" height="10.04" fill="#5b00ff"/><rect x="376.3" y="394.78" width="25.0" height="10.04" fill="#3300ff"/><rect x="376.3" y="385.14" width="25.0" height="10.04" fill="#0b00ff"/><rect x="376.3" y="375.50" width="25.0" height="10.04" fill="#001cff"/><rect x="376.3" y="365.86" width="25.0" height="10.04" fill="#0044ff"/><rect x="376.3" y="356.22" width="25.0" height="10.04" fill="#006cff"/><rect x="376.3" y="346.58" width="25.0" height="10.04" fill="#0093ff"/><rect x="376.3" y="336.94" width="25.0" height="10.04" fill="#00bbff"/><rect x="376.3" y="327.30" width="25.0" height="10.04" fill="#00e3ff"/><rect x="376.3" y="317.66" width="25.0" height="10.04" fill="#00fff4"/><rect x="376.3" y="308.02" width="25.0" height="10.04" fill="#00ffcc"/><rect x="376.3" y="298.38" width="25.0" height="10.04" fill="#00ffa4"/><rect x="376.3" y="288.74" width="25.0" height="10.04" fill="#00ff7d"/><rect x="376.3" y="279.10" width="25.0" height="10.04" fill="#00ff55"/><rect x="376.3" y="269.46" width="25.0" height="10.04" fill="#00ff2d"/><rect x="376.3" y="259.82" width="25.0" height="10.04" fill="#00ff06"/><rect x="376.3" y="250.18" width="25.0" height="10.04" fill="#22ff00"/><rect x="376.3" y="240.54" width="25.0" height="10.04" fill="#4aff00"/><rect x="376.3" y="230.90" width="25.0" height="10.04" fill="#71ff00"/><rect x="376.3" y="221.26" width="25.0" height="10.04" fill="#99ff00"/><rect x="376.3" y="211.62" width="25.0" height="10.04" fill="#c1ff00"/><rect x="376.3" y="201.98" width="25.0" height="10.04" fill="#e8ff00"/><rect x="376.3" y="192.34" width="25.0" height="10.04" fill="#ffee00"/><rect x="376.3" y="182.70" width="25.0" height="10.04" fill="#ffc600"/><rect x="376.3" y="173.06" width="25.0" height="10.04" fill="#ff9f00"/><rect x="376.3" y="163.42" width="25.0" height="10.04" fill="#ff7700"/><rect x="376.3" y="153.78" width="25.0" height="10.04" fill="#ff4f00"/><rect x="376.3" y="144.14" width="25.0" height="10.04" fill="#ff2800"/><rect x="376.3" y="134.50" width="25.0" height="10.04" fill="#ff0000"/>
<path d="M401.3,134.5V423.7" stroke="#222" stroke-opacity="0.7" stroke-width="1" fill="none"/>
<text class="c" transform="translate(403.2,160.6) scale(1.04,1)">1.8</text><text class="c" transform="translate(403.2,196.7) scale(1.04,1)">1.6</text><text class="c" transform="translate(403.2,232.8) scale(1.04,1)">1.4</text><text class="c" transform="translate(403.2,268.9) scale(1.04,1)">1.2</text><text class="c" transform="translate(403.2,305.0) scale(1.04,1)">1</text><text class="c" transform="translate(403.2,341.1) scale(1.04,1)">0.8</text><text class="c" transform="translate(403.2,377.1) scale(1.04,1)">0.6</text><text class="c" transform="translate(403.2,413.2) scale(1.04,1)">0.4</text>
<path d="M386.8,152.5H401.3M386.8,188.6H401.3M386.8,224.7H401.3M386.8,260.8H401.3M386.8,296.9H401.3M386.8,333.0H401.3M386.8,369.0H401.3M386.8,405.1H401.3" stroke="#000" stroke-width="1.1" fill="none"/>
<text class="l" transform="translate(3.8,10.6) scale(1.05,1)">D</text>
<text class="t" transform="translate(260.5,49.3) scale(0.985,1)">100</text><text class="t" transform="translate(312.6,49.3) scale(1.06,1)">Hz</text><text class="t" transform="translate(362.1,49.3) scale(1.06,1)">clean</text>
</g>
</svg>
</body></html>
